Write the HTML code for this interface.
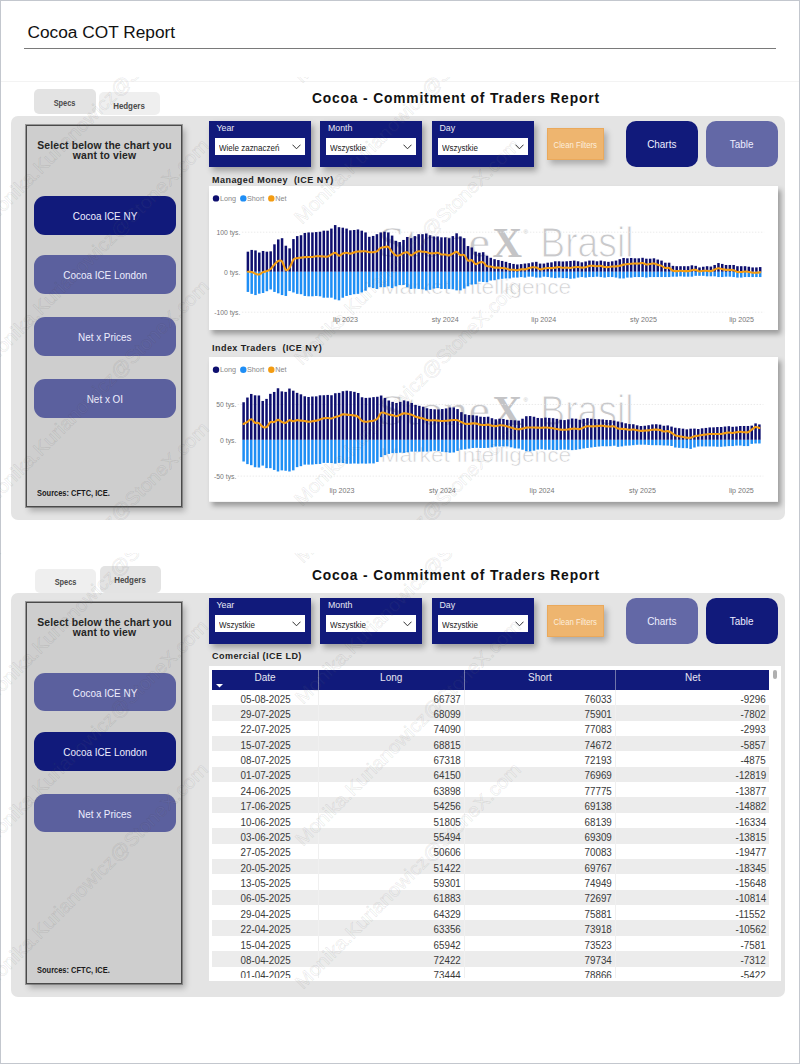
<!DOCTYPE html>
<html><head><meta charset="utf-8">
<style>
html,body{margin:0;padding:0;}
body{width:800px;height:1064px;position:relative;overflow:hidden;background:#fff;font-family:'Liberation Sans', sans-serif;}
.frame{position:absolute;left:0;top:0;width:798px;height:1062px;border:1px solid #c3c7ce;}
.ptitle{position:absolute;left:27.5px;top:22.4px;font-size:17.3px;color:#111;white-space:nowrap;}
.uline{position:absolute;left:24px;top:48px;width:752px;height:1px;background:#7a7a7a;}
.sep{position:absolute;left:1px;top:81px;width:798px;height:1px;background:#f3f3f3;}
.tab{position:absolute;border-radius:5px;}
.tab span{position:absolute;left:0;right:0;text-align:center;font-size:8.5px;line-height:10px;font-weight:bold;color:#4a4a4a;}
.tab i{font-style:normal;display:inline-block;transform:scaleX(0.87);}
.title{position:absolute;left:312px;width:290px;font-size:13.8px;font-weight:bold;color:#111;white-space:nowrap;letter-spacing:0.84px;}
.panel{position:absolute;left:11px;width:774px;background:#e4e4e4;border-radius:7px;}
.lbox{position:absolute;left:26px;width:154px;background:#cecece;border:1px solid #4a4a4a;outline:0.6px solid rgba(80,80,80,0.5);box-shadow:3px 4px 6px rgba(0,0,0,0.25);}
.seltxt{position:absolute;left:26.5px;width:156px;text-align:center;font-size:10.4px;font-weight:bold;color:#252525;line-height:10.9px;letter-spacing:0.13px;}
.btn{position:absolute;display:flex;align-items:center;justify-content:center;color:#eef;font-size:11.4px;border-radius:11px;padding-top:1.5px;box-sizing:border-box;white-space:nowrap;}
.btn i{font-style:normal;display:inline-block;transform:scaleX(0.87);}
.btn.dark{background:#111a7b;}
.btn.light{background:#5b609e;}
.btn.light2{background:#6368a6;}
.src i{font-style:normal;display:inline-block;transform:scaleX(0.88);transform-origin:0 50%;}
.src{position:absolute;left:37px;font-size:8.5px;font-weight:bold;color:#1a1a1a;white-space:nowrap;}
.slicer{position:absolute;width:102px;height:46px;background:#111a7b;box-shadow:3px 4px 6px rgba(0,0,0,0.3);}
.sl-lab{position:absolute;left:8px;top:2.5px;font-size:8.8px;color:#e8e8f4;}
.sl-in{position:absolute;left:6px;top:17px;width:90px;height:17.5px;background:#fff;}
.sl-in span{position:absolute;left:4px;top:4.9px;font-size:8.9px;transform:scaleX(0.9);transform-origin:0 50%;color:#222;white-space:nowrap;}
.chev{position:absolute;right:4px;top:6.7px;}
.clean i{font-style:normal;display:inline-block;transform:scaleX(0.86);padding-top:1.5px;}
.clean{position:absolute;width:57px;height:31.5px;box-sizing:border-box;border:1px solid #eaa95c;background:#eeb56f;color:#fdeedc;font-size:9px;display:flex;align-items:center;justify-content:center;box-shadow:3px 4px 6px rgba(0,0,0,0.25);white-space:nowrap;}
.ctitle{position:absolute;left:212px;font-size:9px;font-weight:bold;color:#222;white-space:nowrap;letter-spacing:0.46px;}
.cshadow{position:absolute;left:209px;width:569px;height:144px;box-shadow:3px 4px 5px rgba(0,0,0,0.32);}
.tbox{position:absolute;left:208.5px;top:665.8px;width:572px;height:315.5px;background:#fff;}
.thead{position:absolute;left:212.35px;top:669.6px;width:557.05px;height:20.15px;background:#111a7b;}
.th{position:absolute;top:0;height:20px;line-height:15px;text-align:center;color:#e6e6f2;font-size:10px;box-sizing:border-box;border-left:1px solid #7075aa;}
.th:first-child{border-left:none;}
.tbody{position:absolute;left:212.35px;top:689.75px;width:557.05px;height:287.85px;overflow:hidden;}
.tr{position:absolute;left:0;width:557.05px;height:15.38px;}
.td{position:absolute;top:1.8px;height:15.35px;line-height:15.35px;font-size:10px;color:#3a3a3a;white-space:nowrap;}
.td span{display:inline-block;transform:scaleX(0.98);}
.td.c0 span{transform-origin:50% 50%;}
.td.c1 span,.td.c2 span,.td.c3 span{transform-origin:100% 50%;}
.td.c0{left:0;width:105.5px;text-align:center;}
.td.c1{left:105.5px;width:142.5px;text-align:right;}
.td.c2{left:251.25px;width:148px;text-align:right;}
.td.c3{left:402.95px;width:150.5px;text-align:right;}
.vline{position:absolute;top:0;height:288px;width:1px;background:#f0f0f0;}
.scroll{position:absolute;left:772.9px;top:670.4px;width:3.8px;height:9.1px;background:#b0b0b0;border-radius:2px;}
</style></head><body>
<div class="frame"></div>
<div class="ptitle">Cocoa COT Report</div>
<div class="uline"></div>
<div class="sep"></div>
<div class="tab" style="left:34px;top:89px;width:62px;height:25px;background:#e3e3e3"><span style="top:8.6px"><i>Specs</i></span></div>
<div class="tab" style="left:98.5px;top:92.3px;width:61.5px;height:22.5px;background:#efefef"><span style="top:8.3px"><i style="transform:scaleX(0.93)">Hedgers</i></span></div>
<div class="title" style="top:91.1px">Cocoa - Commitment of Traders Report</div>
<div class="panel" style="top:116px;height:404px"></div>
<div class="lbox" style="top:125px;height:379.5px"></div>
<div class="seltxt" style="top:140.5px">Select below the chart you<br>want to view</div>
<div class="btn dark" style="left:34px;top:196.2px;width:142px;height:38.5px"><i>Cocoa ICE NY</i></div>
<div class="btn light" style="left:34px;top:255.4px;width:142px;height:38.5px"><i>Cocoa ICE London</i></div>
<div class="btn light" style="left:34px;top:317px;width:142px;height:38.5px"><i>Net x Prices</i></div>
<div class="btn light" style="left:34px;top:379.2px;width:142px;height:38.5px"><i>Net x OI</i></div>
<div class="src" style="top:488px"><i>Sources: CFTC, ICE.</i></div>
<div class="slicer" style="left:208.5px;top:120.8px"><div class="sl-lab">Year</div><div class="sl-in"><span>Wiele zaznaczeń</span><svg class="chev" width="9" height="6" viewBox="0 0 9 6"><path d="M0.5 0.7 L4.5 4.8 L8.5 0.7" fill="none" stroke="#333" stroke-width="1"/></svg></div></div>
<div class="slicer" style="left:320px;top:120.8px"><div class="sl-lab">Month</div><div class="sl-in"><span>Wszystkie</span><svg class="chev" width="9" height="6" viewBox="0 0 9 6"><path d="M0.5 0.7 L4.5 4.8 L8.5 0.7" fill="none" stroke="#333" stroke-width="1"/></svg></div></div>
<div class="slicer" style="left:431.5px;top:120.8px"><div class="sl-lab">Day</div><div class="sl-in"><span>Wszystkie</span><svg class="chev" width="9" height="6" viewBox="0 0 9 6"><path d="M0.5 0.7 L4.5 4.8 L8.5 0.7" fill="none" stroke="#333" stroke-width="1"/></svg></div></div>
<div class="clean" style="left:546.5px;top:128px"><i>Clean Filters</i></div>
<div class="btn dark" style="left:625.5px;top:120.5px;width:72px;height:46px;font-size:11.4px;border-radius:10px"><i>Charts</i></div>
<div class="btn light2" style="left:706px;top:120.5px;width:72px;height:46px;font-size:11.4px;border-radius:10px"><i>Table</i></div>

<div class="ctitle" style="top:174.5px">Managed Money&nbsp; (ICE NY)</div>
<div class="cshadow" style="top:186px"></div>
<svg style="position:absolute;left:209px;top:186px" width="569" height="144" viewBox="209 186 569 144">
<rect x="209" y="186" width="569" height="144" fill="#fff"/>
<g><text x="378" y="257.05" font-family="Liberation Serif" font-size="44" textLength="112" lengthAdjust="spacingAndGlyphs" fill="#c8c8ca" stroke="#fff" stroke-width="0.6">Stone</text><text x="492.5" y="257.25" font-family="Liberation Serif" font-weight="bold" font-size="42" textLength="29.5" lengthAdjust="spacingAndGlyphs" fill="#c4c4c6">X</text><text x="523.5" y="234.45" font-family="Liberation Sans" font-size="6" fill="#c8c8c8">®</text><text x="540.3" y="257.05" font-family="Liberation Sans" font-size="41.7" textLength="93.2" lengthAdjust="spacingAndGlyphs" fill="#c9c9cb" stroke="#fff" stroke-width="1.1">Brasil</text><text x="380.5" y="293.85" font-family="Liberation Sans" font-size="19.4" textLength="190.75" lengthAdjust="spacingAndGlyphs" fill="#d0d0d2" stroke="#fff" stroke-width="0.55">Market Intelligence</text></g>
<line x1="241.9" x2="764.2" y1="232.20" y2="232.20" stroke="#e6e6e6" stroke-width="0.8" stroke-dasharray="1.5 1.5"/>
<text x="240.3" y="234.90" font-family="'Liberation Sans', sans-serif" font-size="7.8" fill="#777" text-anchor="end" textLength="23.76" lengthAdjust="spacingAndGlyphs">100 tys.</text>
<text x="240.3" y="274.50" font-family="'Liberation Sans', sans-serif" font-size="7.8" fill="#777" text-anchor="end" textLength="16.22" lengthAdjust="spacingAndGlyphs">0 tys.</text>
<line x1="241.9" x2="764.2" y1="312.20" y2="312.20" stroke="#e6e6e6" stroke-width="0.8" stroke-dasharray="1.5 1.5"/>
<text x="240.3" y="314.90" font-family="'Liberation Sans', sans-serif" font-size="7.8" fill="#777" text-anchor="end" textLength="26.02" lengthAdjust="spacingAndGlyphs">-100 tys.</text>
<rect x="246.65" y="251.68" width="2.5" height="20.12" fill="#0e0f6f"/><rect x="246.65" y="271.80" width="2.5" height="20.12" fill="#1f8ef5"/>
<rect x="250.44" y="249.93" width="2.5" height="21.88" fill="#0e0f6f"/><rect x="250.44" y="271.80" width="2.5" height="22.05" fill="#1f8ef5"/>
<rect x="254.24" y="250.45" width="2.5" height="21.35" fill="#0e0f6f"/><rect x="254.24" y="271.80" width="2.5" height="23.27" fill="#1f8ef5"/>
<rect x="258.03" y="252.55" width="2.5" height="19.25" fill="#0e0f6f"/><rect x="258.03" y="271.80" width="2.5" height="21.88" fill="#1f8ef5"/>
<rect x="261.83" y="250.98" width="2.5" height="20.82" fill="#0e0f6f"/><rect x="261.83" y="271.80" width="2.5" height="21.18" fill="#1f8ef5"/>
<rect x="265.62" y="251.68" width="2.5" height="20.12" fill="#0e0f6f"/><rect x="265.62" y="271.80" width="2.5" height="19.42" fill="#1f8ef5"/>
<rect x="269.42" y="251.33" width="2.5" height="20.47" fill="#0e0f6f"/><rect x="269.42" y="271.80" width="2.5" height="17.67" fill="#1f8ef5"/>
<rect x="273.21" y="244.33" width="2.5" height="27.47" fill="#0e0f6f"/><rect x="273.21" y="271.80" width="2.5" height="20.12" fill="#1f8ef5"/>
<rect x="277.01" y="239.43" width="2.5" height="32.38" fill="#0e0f6f"/><rect x="277.01" y="271.80" width="2.5" height="21.52" fill="#1f8ef5"/>
<rect x="280.80" y="238.20" width="2.5" height="33.60" fill="#0e0f6f"/><rect x="280.80" y="271.80" width="2.5" height="23.27" fill="#1f8ef5"/>
<rect x="284.60" y="245.73" width="2.5" height="26.07" fill="#0e0f6f"/><rect x="284.60" y="271.80" width="2.5" height="24.15" fill="#1f8ef5"/>
<rect x="288.39" y="248.35" width="2.5" height="23.45" fill="#0e0f6f"/><rect x="288.39" y="271.80" width="2.5" height="19.25" fill="#1f8ef5"/>
<rect x="292.19" y="239.08" width="2.5" height="32.72" fill="#0e0f6f"/><rect x="292.19" y="271.80" width="2.5" height="20.65" fill="#1f8ef5"/>
<rect x="295.98" y="236.10" width="2.5" height="35.70" fill="#0e0f6f"/><rect x="295.98" y="271.80" width="2.5" height="22.05" fill="#1f8ef5"/>
<rect x="299.78" y="235.23" width="2.5" height="36.57" fill="#0e0f6f"/><rect x="299.78" y="271.80" width="2.5" height="22.40" fill="#1f8ef5"/>
<rect x="303.57" y="232.95" width="2.5" height="38.85" fill="#0e0f6f"/><rect x="303.57" y="271.80" width="2.5" height="24.15" fill="#1f8ef5"/>
<rect x="307.37" y="232.43" width="2.5" height="39.37" fill="#0e0f6f"/><rect x="307.37" y="271.80" width="2.5" height="24.50" fill="#1f8ef5"/>
<rect x="311.16" y="232.43" width="2.5" height="39.37" fill="#0e0f6f"/><rect x="311.16" y="271.80" width="2.5" height="24.50" fill="#1f8ef5"/>
<rect x="314.96" y="232.08" width="2.5" height="39.73" fill="#0e0f6f"/><rect x="314.96" y="271.80" width="2.5" height="24.15" fill="#1f8ef5"/>
<rect x="318.75" y="231.73" width="2.5" height="40.07" fill="#0e0f6f"/><rect x="318.75" y="271.80" width="2.5" height="24.50" fill="#1f8ef5"/>
<rect x="322.55" y="230.68" width="2.5" height="41.12" fill="#0e0f6f"/><rect x="322.55" y="271.80" width="2.5" height="25.90" fill="#1f8ef5"/>
<rect x="326.34" y="230.68" width="2.5" height="41.12" fill="#0e0f6f"/><rect x="326.34" y="271.80" width="2.5" height="25.90" fill="#1f8ef5"/>
<rect x="330.14" y="228.58" width="2.5" height="43.23" fill="#0e0f6f"/><rect x="330.14" y="271.80" width="2.5" height="25.90" fill="#1f8ef5"/>
<rect x="333.93" y="225.08" width="2.5" height="46.72" fill="#0e0f6f"/><rect x="333.93" y="271.80" width="2.5" height="27.65" fill="#1f8ef5"/>
<rect x="337.73" y="227.18" width="2.5" height="44.62" fill="#0e0f6f"/><rect x="337.73" y="271.80" width="2.5" height="28.52" fill="#1f8ef5"/>
<rect x="341.52" y="227.70" width="2.5" height="44.10" fill="#0e0f6f"/><rect x="341.52" y="271.80" width="2.5" height="25.90" fill="#1f8ef5"/>
<rect x="345.32" y="228.58" width="2.5" height="43.23" fill="#0e0f6f"/><rect x="345.32" y="271.80" width="2.5" height="24.15" fill="#1f8ef5"/>
<rect x="349.11" y="230.33" width="2.5" height="41.47" fill="#0e0f6f"/><rect x="349.11" y="271.80" width="2.5" height="23.27" fill="#1f8ef5"/>
<rect x="352.90" y="229.98" width="2.5" height="41.82" fill="#0e0f6f"/><rect x="352.90" y="271.80" width="2.5" height="22.40" fill="#1f8ef5"/>
<rect x="356.70" y="229.45" width="2.5" height="42.35" fill="#0e0f6f"/><rect x="356.70" y="271.80" width="2.5" height="22.05" fill="#1f8ef5"/>
<rect x="360.49" y="230.68" width="2.5" height="41.12" fill="#0e0f6f"/><rect x="360.49" y="271.80" width="2.5" height="20.65" fill="#1f8ef5"/>
<rect x="364.29" y="232.43" width="2.5" height="39.37" fill="#0e0f6f"/><rect x="364.29" y="271.80" width="2.5" height="18.90" fill="#1f8ef5"/>
<rect x="368.08" y="236.80" width="2.5" height="35.00" fill="#0e0f6f"/><rect x="368.08" y="271.80" width="2.5" height="15.40" fill="#1f8ef5"/>
<rect x="371.88" y="235.93" width="2.5" height="35.88" fill="#0e0f6f"/><rect x="371.88" y="271.80" width="2.5" height="16.27" fill="#1f8ef5"/>
<rect x="375.67" y="234.18" width="2.5" height="37.62" fill="#0e0f6f"/><rect x="375.67" y="271.80" width="2.5" height="17.15" fill="#1f8ef5"/>
<rect x="379.47" y="232.43" width="2.5" height="39.37" fill="#0e0f6f"/><rect x="379.47" y="271.80" width="2.5" height="15.40" fill="#1f8ef5"/>
<rect x="383.26" y="231.73" width="2.5" height="40.07" fill="#0e0f6f"/><rect x="383.26" y="271.80" width="2.5" height="15.40" fill="#1f8ef5"/>
<rect x="387.06" y="232.43" width="2.5" height="39.37" fill="#0e0f6f"/><rect x="387.06" y="271.80" width="2.5" height="14.52" fill="#1f8ef5"/>
<rect x="390.85" y="235.58" width="2.5" height="36.23" fill="#0e0f6f"/><rect x="390.85" y="271.80" width="2.5" height="16.27" fill="#1f8ef5"/>
<rect x="394.65" y="240.83" width="2.5" height="30.97" fill="#0e0f6f"/><rect x="394.65" y="271.80" width="2.5" height="14.52" fill="#1f8ef5"/>
<rect x="398.44" y="242.05" width="2.5" height="29.75" fill="#0e0f6f"/><rect x="398.44" y="271.80" width="2.5" height="13.30" fill="#1f8ef5"/>
<rect x="402.24" y="239.95" width="2.5" height="31.85" fill="#0e0f6f"/><rect x="402.24" y="271.80" width="2.5" height="13.12" fill="#1f8ef5"/>
<rect x="406.03" y="236.98" width="2.5" height="34.82" fill="#0e0f6f"/><rect x="406.03" y="271.80" width="2.5" height="15.40" fill="#1f8ef5"/>
<rect x="409.83" y="238.20" width="2.5" height="33.60" fill="#0e0f6f"/><rect x="409.83" y="271.80" width="2.5" height="17.15" fill="#1f8ef5"/>
<rect x="413.62" y="236.10" width="2.5" height="35.70" fill="#0e0f6f"/><rect x="413.62" y="271.80" width="2.5" height="16.80" fill="#1f8ef5"/>
<rect x="417.42" y="234.18" width="2.5" height="37.62" fill="#0e0f6f"/><rect x="417.42" y="271.80" width="2.5" height="17.15" fill="#1f8ef5"/>
<rect x="421.21" y="234.18" width="2.5" height="37.62" fill="#0e0f6f"/><rect x="421.21" y="271.80" width="2.5" height="17.50" fill="#1f8ef5"/>
<rect x="425.01" y="233.48" width="2.5" height="38.33" fill="#0e0f6f"/><rect x="425.01" y="271.80" width="2.5" height="18.55" fill="#1f8ef5"/>
<rect x="428.80" y="235.23" width="2.5" height="36.57" fill="#0e0f6f"/><rect x="428.80" y="271.80" width="2.5" height="18.02" fill="#1f8ef5"/>
<rect x="432.60" y="236.45" width="2.5" height="35.35" fill="#0e0f6f"/><rect x="432.60" y="271.80" width="2.5" height="16.80" fill="#1f8ef5"/>
<rect x="436.39" y="236.45" width="2.5" height="35.35" fill="#0e0f6f"/><rect x="436.39" y="271.80" width="2.5" height="16.27" fill="#1f8ef5"/>
<rect x="440.19" y="237.33" width="2.5" height="34.48" fill="#0e0f6f"/><rect x="440.19" y="271.80" width="2.5" height="17.15" fill="#1f8ef5"/>
<rect x="443.98" y="237.33" width="2.5" height="34.48" fill="#0e0f6f"/><rect x="443.98" y="271.80" width="2.5" height="17.15" fill="#1f8ef5"/>
<rect x="447.78" y="238.20" width="2.5" height="33.60" fill="#0e0f6f"/><rect x="447.78" y="271.80" width="2.5" height="17.15" fill="#1f8ef5"/>
<rect x="451.57" y="236.10" width="2.5" height="35.70" fill="#0e0f6f"/><rect x="451.57" y="271.80" width="2.5" height="17.50" fill="#1f8ef5"/>
<rect x="455.36" y="233.30" width="2.5" height="38.50" fill="#0e0f6f"/><rect x="455.36" y="271.80" width="2.5" height="18.55" fill="#1f8ef5"/>
<rect x="459.16" y="236.45" width="2.5" height="35.35" fill="#0e0f6f"/><rect x="459.16" y="271.80" width="2.5" height="18.55" fill="#1f8ef5"/>
<rect x="462.95" y="238.20" width="2.5" height="33.60" fill="#0e0f6f"/><rect x="462.95" y="271.80" width="2.5" height="16.80" fill="#1f8ef5"/>
<rect x="466.75" y="246.08" width="2.5" height="25.73" fill="#0e0f6f"/><rect x="466.75" y="271.80" width="2.5" height="14.52" fill="#1f8ef5"/>
<rect x="470.54" y="247.48" width="2.5" height="24.32" fill="#0e0f6f"/><rect x="470.54" y="271.80" width="2.5" height="12.77" fill="#1f8ef5"/>
<rect x="474.34" y="251.68" width="2.5" height="20.12" fill="#0e0f6f"/><rect x="474.34" y="271.80" width="2.5" height="12.42" fill="#1f8ef5"/>
<rect x="478.13" y="252.73" width="2.5" height="19.07" fill="#0e0f6f"/><rect x="478.13" y="271.80" width="2.5" height="9.80" fill="#1f8ef5"/>
<rect x="481.93" y="252.20" width="2.5" height="19.60" fill="#0e0f6f"/><rect x="481.93" y="271.80" width="2.5" height="10.15" fill="#1f8ef5"/>
<rect x="485.72" y="255.70" width="2.5" height="16.10" fill="#0e0f6f"/><rect x="485.72" y="271.80" width="2.5" height="10.50" fill="#1f8ef5"/>
<rect x="489.52" y="257.80" width="2.5" height="14.00" fill="#0e0f6f"/><rect x="489.52" y="271.80" width="2.5" height="8.75" fill="#1f8ef5"/>
<rect x="493.31" y="259.20" width="2.5" height="12.60" fill="#0e0f6f"/><rect x="493.31" y="271.80" width="2.5" height="8.40" fill="#1f8ef5"/>
<rect x="497.11" y="260.07" width="2.5" height="11.72" fill="#0e0f6f"/><rect x="497.11" y="271.80" width="2.5" height="7.52" fill="#1f8ef5"/>
<rect x="500.90" y="260.95" width="2.5" height="10.85" fill="#0e0f6f"/><rect x="500.90" y="271.80" width="2.5" height="7.00" fill="#1f8ef5"/>
<rect x="504.70" y="261.82" width="2.5" height="9.97" fill="#0e0f6f"/><rect x="504.70" y="271.80" width="2.5" height="6.65" fill="#1f8ef5"/>
<rect x="508.49" y="263.05" width="2.5" height="8.75" fill="#0e0f6f"/><rect x="508.49" y="271.80" width="2.5" height="6.65" fill="#1f8ef5"/>
<rect x="512.29" y="263.93" width="2.5" height="7.87" fill="#0e0f6f"/><rect x="512.29" y="271.80" width="2.5" height="5.77" fill="#1f8ef5"/>
<rect x="516.08" y="264.45" width="2.5" height="7.35" fill="#0e0f6f"/><rect x="516.08" y="271.80" width="2.5" height="5.77" fill="#1f8ef5"/>
<rect x="519.88" y="264.10" width="2.5" height="7.70" fill="#0e0f6f"/><rect x="519.88" y="271.80" width="2.5" height="5.25" fill="#1f8ef5"/>
<rect x="523.67" y="263.57" width="2.5" height="8.22" fill="#0e0f6f"/><rect x="523.67" y="271.80" width="2.5" height="5.77" fill="#1f8ef5"/>
<rect x="527.47" y="263.23" width="2.5" height="8.57" fill="#0e0f6f"/><rect x="527.47" y="271.80" width="2.5" height="4.90" fill="#1f8ef5"/>
<rect x="531.26" y="262.35" width="2.5" height="9.45" fill="#0e0f6f"/><rect x="531.26" y="271.80" width="2.5" height="4.90" fill="#1f8ef5"/>
<rect x="535.06" y="261.82" width="2.5" height="9.97" fill="#0e0f6f"/><rect x="535.06" y="271.80" width="2.5" height="5.77" fill="#1f8ef5"/>
<rect x="538.85" y="263.57" width="2.5" height="8.22" fill="#0e0f6f"/><rect x="538.85" y="271.80" width="2.5" height="5.77" fill="#1f8ef5"/>
<rect x="542.65" y="263.57" width="2.5" height="8.22" fill="#0e0f6f"/><rect x="542.65" y="271.80" width="2.5" height="4.90" fill="#1f8ef5"/>
<rect x="546.44" y="262.70" width="2.5" height="9.10" fill="#0e0f6f"/><rect x="546.44" y="271.80" width="2.5" height="5.25" fill="#1f8ef5"/>
<rect x="550.24" y="262.35" width="2.5" height="9.45" fill="#0e0f6f"/><rect x="550.24" y="271.80" width="2.5" height="5.77" fill="#1f8ef5"/>
<rect x="554.03" y="261.30" width="2.5" height="10.50" fill="#0e0f6f"/><rect x="554.03" y="271.80" width="2.5" height="6.30" fill="#1f8ef5"/>
<rect x="557.82" y="261.30" width="2.5" height="10.50" fill="#0e0f6f"/><rect x="557.82" y="271.80" width="2.5" height="5.77" fill="#1f8ef5"/>
<rect x="561.62" y="261.48" width="2.5" height="10.32" fill="#0e0f6f"/><rect x="561.62" y="271.80" width="2.5" height="6.30" fill="#1f8ef5"/>
<rect x="565.41" y="261.30" width="2.5" height="10.50" fill="#0e0f6f"/><rect x="565.41" y="271.80" width="2.5" height="6.30" fill="#1f8ef5"/>
<rect x="569.21" y="260.95" width="2.5" height="10.85" fill="#0e0f6f"/><rect x="569.21" y="271.80" width="2.5" height="7.00" fill="#1f8ef5"/>
<rect x="573.00" y="260.60" width="2.5" height="11.20" fill="#0e0f6f"/><rect x="573.00" y="271.80" width="2.5" height="6.65" fill="#1f8ef5"/>
<rect x="576.80" y="261.30" width="2.5" height="10.50" fill="#0e0f6f"/><rect x="576.80" y="271.80" width="2.5" height="5.77" fill="#1f8ef5"/>
<rect x="580.59" y="262.35" width="2.5" height="9.45" fill="#0e0f6f"/><rect x="580.59" y="271.80" width="2.5" height="5.25" fill="#1f8ef5"/>
<rect x="584.39" y="261.48" width="2.5" height="10.32" fill="#0e0f6f"/><rect x="584.39" y="271.80" width="2.5" height="5.77" fill="#1f8ef5"/>
<rect x="588.18" y="260.60" width="2.5" height="11.20" fill="#0e0f6f"/><rect x="588.18" y="271.80" width="2.5" height="5.25" fill="#1f8ef5"/>
<rect x="591.98" y="260.60" width="2.5" height="11.20" fill="#0e0f6f"/><rect x="591.98" y="271.80" width="2.5" height="5.25" fill="#1f8ef5"/>
<rect x="595.77" y="261.30" width="2.5" height="10.50" fill="#0e0f6f"/><rect x="595.77" y="271.80" width="2.5" height="4.90" fill="#1f8ef5"/>
<rect x="599.57" y="260.60" width="2.5" height="11.20" fill="#0e0f6f"/><rect x="599.57" y="271.80" width="2.5" height="5.25" fill="#1f8ef5"/>
<rect x="603.36" y="261.30" width="2.5" height="10.50" fill="#0e0f6f"/><rect x="603.36" y="271.80" width="2.5" height="5.77" fill="#1f8ef5"/>
<rect x="607.16" y="261.82" width="2.5" height="9.97" fill="#0e0f6f"/><rect x="607.16" y="271.80" width="2.5" height="5.25" fill="#1f8ef5"/>
<rect x="610.95" y="261.30" width="2.5" height="10.50" fill="#0e0f6f"/><rect x="610.95" y="271.80" width="2.5" height="5.25" fill="#1f8ef5"/>
<rect x="614.75" y="260.60" width="2.5" height="11.20" fill="#0e0f6f"/><rect x="614.75" y="271.80" width="2.5" height="5.77" fill="#1f8ef5"/>
<rect x="618.54" y="259.20" width="2.5" height="12.60" fill="#0e0f6f"/><rect x="618.54" y="271.80" width="2.5" height="6.65" fill="#1f8ef5"/>
<rect x="622.34" y="257.98" width="2.5" height="13.82" fill="#0e0f6f"/><rect x="622.34" y="271.80" width="2.5" height="6.65" fill="#1f8ef5"/>
<rect x="626.13" y="258.32" width="2.5" height="13.47" fill="#0e0f6f"/><rect x="626.13" y="271.80" width="2.5" height="5.77" fill="#1f8ef5"/>
<rect x="629.93" y="257.98" width="2.5" height="13.82" fill="#0e0f6f"/><rect x="629.93" y="271.80" width="2.5" height="5.77" fill="#1f8ef5"/>
<rect x="633.72" y="258.32" width="2.5" height="13.47" fill="#0e0f6f"/><rect x="633.72" y="271.80" width="2.5" height="5.25" fill="#1f8ef5"/>
<rect x="637.52" y="258.32" width="2.5" height="13.47" fill="#0e0f6f"/><rect x="637.52" y="271.80" width="2.5" height="5.25" fill="#1f8ef5"/>
<rect x="641.31" y="257.80" width="2.5" height="14.00" fill="#0e0f6f"/><rect x="641.31" y="271.80" width="2.5" height="5.25" fill="#1f8ef5"/>
<rect x="645.11" y="258.68" width="2.5" height="13.12" fill="#0e0f6f"/><rect x="645.11" y="271.80" width="2.5" height="5.77" fill="#1f8ef5"/>
<rect x="648.90" y="258.68" width="2.5" height="13.12" fill="#0e0f6f"/><rect x="648.90" y="271.80" width="2.5" height="5.25" fill="#1f8ef5"/>
<rect x="652.70" y="258.32" width="2.5" height="13.47" fill="#0e0f6f"/><rect x="652.70" y="271.80" width="2.5" height="5.25" fill="#1f8ef5"/>
<rect x="656.49" y="259.55" width="2.5" height="12.25" fill="#0e0f6f"/><rect x="656.49" y="271.80" width="2.5" height="5.25" fill="#1f8ef5"/>
<rect x="660.28" y="260.60" width="2.5" height="11.20" fill="#0e0f6f"/><rect x="660.28" y="271.80" width="2.5" height="5.25" fill="#1f8ef5"/>
<rect x="664.08" y="262.70" width="2.5" height="9.10" fill="#0e0f6f"/><rect x="664.08" y="271.80" width="2.5" height="5.25" fill="#1f8ef5"/>
<rect x="667.87" y="262.70" width="2.5" height="9.10" fill="#0e0f6f"/><rect x="667.87" y="271.80" width="2.5" height="5.25" fill="#1f8ef5"/>
<rect x="671.67" y="265.85" width="2.5" height="5.95" fill="#0e0f6f"/><rect x="671.67" y="271.80" width="2.5" height="4.90" fill="#1f8ef5"/>
<rect x="675.46" y="266.20" width="2.5" height="5.60" fill="#0e0f6f"/><rect x="675.46" y="271.80" width="2.5" height="4.90" fill="#1f8ef5"/>
<rect x="679.26" y="266.20" width="2.5" height="5.60" fill="#0e0f6f"/><rect x="679.26" y="271.80" width="2.5" height="4.55" fill="#1f8ef5"/>
<rect x="683.05" y="266.20" width="2.5" height="5.60" fill="#0e0f6f"/><rect x="683.05" y="271.80" width="2.5" height="4.90" fill="#1f8ef5"/>
<rect x="686.85" y="266.20" width="2.5" height="5.60" fill="#0e0f6f"/><rect x="686.85" y="271.80" width="2.5" height="4.90" fill="#1f8ef5"/>
<rect x="690.64" y="265.32" width="2.5" height="6.47" fill="#0e0f6f"/><rect x="690.64" y="271.80" width="2.5" height="4.90" fill="#1f8ef5"/>
<rect x="694.44" y="265.85" width="2.5" height="5.95" fill="#0e0f6f"/><rect x="694.44" y="271.80" width="2.5" height="4.03" fill="#1f8ef5"/>
<rect x="698.23" y="267.43" width="2.5" height="4.38" fill="#0e0f6f"/><rect x="698.23" y="271.80" width="2.5" height="4.03" fill="#1f8ef5"/>
<rect x="702.03" y="266.73" width="2.5" height="5.07" fill="#0e0f6f"/><rect x="702.03" y="271.80" width="2.5" height="4.03" fill="#1f8ef5"/>
<rect x="705.82" y="266.20" width="2.5" height="5.60" fill="#0e0f6f"/><rect x="705.82" y="271.80" width="2.5" height="4.55" fill="#1f8ef5"/>
<rect x="709.62" y="266.55" width="2.5" height="5.25" fill="#0e0f6f"/><rect x="709.62" y="271.80" width="2.5" height="4.55" fill="#1f8ef5"/>
<rect x="713.41" y="264.98" width="2.5" height="6.83" fill="#0e0f6f"/><rect x="713.41" y="271.80" width="2.5" height="4.55" fill="#1f8ef5"/>
<rect x="717.21" y="263.05" width="2.5" height="8.75" fill="#0e0f6f"/><rect x="717.21" y="271.80" width="2.5" height="5.25" fill="#1f8ef5"/>
<rect x="721.00" y="263.93" width="2.5" height="7.87" fill="#0e0f6f"/><rect x="721.00" y="271.80" width="2.5" height="5.25" fill="#1f8ef5"/>
<rect x="724.80" y="264.98" width="2.5" height="6.83" fill="#0e0f6f"/><rect x="724.80" y="271.80" width="2.5" height="4.90" fill="#1f8ef5"/>
<rect x="728.59" y="264.98" width="2.5" height="6.83" fill="#0e0f6f"/><rect x="728.59" y="271.80" width="2.5" height="4.90" fill="#1f8ef5"/>
<rect x="732.39" y="264.98" width="2.5" height="6.83" fill="#0e0f6f"/><rect x="732.39" y="271.80" width="2.5" height="5.25" fill="#1f8ef5"/>
<rect x="736.18" y="266.20" width="2.5" height="5.60" fill="#0e0f6f"/><rect x="736.18" y="271.80" width="2.5" height="5.77" fill="#1f8ef5"/>
<rect x="739.98" y="266.20" width="2.5" height="5.60" fill="#0e0f6f"/><rect x="739.98" y="271.80" width="2.5" height="5.77" fill="#1f8ef5"/>
<rect x="743.77" y="266.20" width="2.5" height="5.60" fill="#0e0f6f"/><rect x="743.77" y="271.80" width="2.5" height="5.25" fill="#1f8ef5"/>
<rect x="747.57" y="266.73" width="2.5" height="5.07" fill="#0e0f6f"/><rect x="747.57" y="271.80" width="2.5" height="5.25" fill="#1f8ef5"/>
<rect x="751.36" y="267.43" width="2.5" height="4.38" fill="#0e0f6f"/><rect x="751.36" y="271.80" width="2.5" height="5.25" fill="#1f8ef5"/>
<rect x="755.16" y="267.43" width="2.5" height="4.38" fill="#0e0f6f"/><rect x="755.16" y="271.80" width="2.5" height="5.25" fill="#1f8ef5"/>
<rect x="758.95" y="267.07" width="2.5" height="4.72" fill="#0e0f6f"/><rect x="758.95" y="271.80" width="2.5" height="5.25" fill="#1f8ef5"/>
<path d="M247.90,271.80 C248.53,271.83 250.43,271.65 251.69,271.98 C252.96,272.30 254.22,273.32 255.49,273.73 C256.75,274.13 258.02,274.69 259.28,274.43 C260.55,274.16 261.81,272.70 263.08,272.15 C264.34,271.60 265.61,271.62 266.87,271.10 C268.14,270.58 269.40,270.11 270.67,269.00 C271.93,267.89 273.20,265.79 274.46,264.45 C275.73,263.11 276.99,261.45 278.26,260.95 C279.52,260.45 280.79,259.99 282.05,261.48 C283.32,262.96 284.58,268.85 285.85,269.88 C287.11,270.90 288.38,269.29 289.64,267.60 C290.91,265.91 292.17,261.30 293.44,259.73 C294.70,258.15 295.97,258.50 297.23,258.15 C298.50,257.80 299.76,257.80 301.03,257.62 C302.29,257.45 303.56,257.22 304.82,257.10 C306.09,256.98 307.35,256.95 308.62,256.93 C309.88,256.90 311.15,257.04 312.41,256.93 C313.68,256.81 314.94,256.34 316.21,256.23 C317.47,256.11 318.74,256.17 320.00,256.23 C321.27,256.28 322.53,256.52 323.80,256.57 C325.06,256.63 326.33,256.92 327.59,256.57 C328.86,256.23 330.12,255.12 331.39,254.48 C332.65,253.83 333.92,252.52 335.18,252.73 C336.45,252.93 337.71,255.55 338.98,255.70 C340.24,255.85 341.51,254.10 342.77,253.60 C344.04,253.10 345.30,252.73 346.57,252.73 C347.83,252.73 349.10,253.66 350.36,253.60 C351.62,253.54 352.89,252.72 354.15,252.38 C355.42,252.03 356.68,251.68 357.95,251.50 C359.21,251.32 360.48,251.35 361.74,251.33 C363.01,251.30 364.27,251.18 365.54,251.33 C366.80,251.47 368.07,252.05 369.33,252.20 C370.60,252.35 371.86,252.35 373.13,252.20 C374.39,252.05 375.66,252.05 376.92,251.33 C378.19,250.60 379.45,248.53 380.72,247.83 C381.98,247.12 383.25,247.27 384.51,247.12 C385.78,246.98 387.04,246.16 388.31,246.95 C389.57,247.74 390.84,250.45 392.10,251.85 C393.37,253.25 394.63,254.77 395.90,255.35 C397.16,255.93 398.43,255.73 399.69,255.35 C400.96,254.97 402.22,253.57 403.49,253.08 C404.75,252.58 406.02,252.00 407.28,252.38 C408.55,252.75 409.81,255.26 411.08,255.35 C412.34,255.44 413.61,253.57 414.87,252.90 C416.14,252.23 417.40,251.53 418.67,251.33 C419.93,251.12 421.20,251.56 422.46,251.68 C423.73,251.79 424.99,251.76 426.26,252.03 C427.52,252.29 428.79,253.05 430.05,253.25 C431.32,253.45 432.58,253.34 433.85,253.25 C435.11,253.16 436.38,252.52 437.64,252.73 C438.91,252.93 440.17,254.18 441.44,254.48 C442.70,254.77 443.97,254.33 445.23,254.48 C446.50,254.62 447.76,255.50 449.03,255.35 C450.29,255.20 451.56,254.18 452.82,253.60 C454.08,253.02 455.35,251.62 456.61,251.85 C457.88,252.08 459.14,254.47 460.41,255.00 C461.67,255.53 462.94,254.07 464.20,255.00 C465.47,255.93 466.73,259.73 468.00,260.60 C469.26,261.48 470.53,259.67 471.79,260.25 C473.06,260.83 474.32,263.72 475.59,264.10 C476.85,264.48 478.12,262.82 479.38,262.53 C480.65,262.23 481.91,261.74 483.18,262.35 C484.44,262.96 485.71,265.50 486.97,266.20 C488.24,266.90 489.50,266.32 490.77,266.55 C492.03,266.78 493.30,267.43 494.56,267.60 C495.83,267.78 497.09,267.54 498.36,267.60 C499.62,267.66 500.89,267.80 502.15,267.95 C503.42,268.10 504.68,268.18 505.95,268.48 C507.21,268.77 508.48,269.50 509.74,269.70 C511.01,269.90 512.27,269.61 513.54,269.70 C514.80,269.79 516.07,270.28 517.33,270.23 C518.60,270.17 519.86,269.50 521.13,269.35 C522.39,269.20 523.66,269.55 524.92,269.35 C526.19,269.15 527.45,268.48 528.72,268.12 C529.98,267.77 531.25,267.34 532.51,267.25 C533.78,267.16 535.04,267.25 536.31,267.60 C537.57,267.95 538.84,269.20 540.10,269.35 C541.37,269.50 542.63,268.71 543.90,268.48 C545.16,268.24 546.43,268.01 547.69,267.95 C548.96,267.89 550.22,268.18 551.49,268.12 C552.75,268.07 554.02,267.78 555.28,267.60 C556.54,267.43 557.81,267.05 559.07,267.07 C560.34,267.10 561.60,267.69 562.87,267.78 C564.13,267.86 565.40,267.57 566.66,267.60 C567.93,267.63 569.19,268.01 570.46,267.95 C571.72,267.89 572.99,267.40 574.25,267.25 C575.52,267.10 576.78,267.02 578.05,267.07 C579.31,267.13 580.58,267.57 581.84,267.60 C583.11,267.63 584.37,267.54 585.64,267.25 C586.90,266.96 588.17,266.08 589.43,265.85 C590.70,265.62 591.96,265.79 593.23,265.85 C594.49,265.91 595.76,266.20 597.02,266.20 C598.29,266.20 599.55,265.70 600.82,265.85 C602.08,266.00 603.35,266.87 604.61,267.07 C605.88,267.28 607.14,267.16 608.41,267.07 C609.67,266.99 610.94,266.67 612.20,266.55 C613.47,266.43 614.73,266.49 616.00,266.38 C617.26,266.26 618.53,266.14 619.79,265.85 C621.06,265.56 622.32,264.92 623.59,264.62 C624.85,264.33 626.12,264.25 627.38,264.10 C628.65,263.95 629.91,263.84 631.18,263.75 C632.44,263.66 633.71,263.60 634.97,263.57 C636.24,263.55 637.50,263.66 638.77,263.57 C640.03,263.49 641.30,262.90 642.56,263.05 C643.83,263.20 645.09,264.30 646.36,264.45 C647.62,264.60 648.89,264.07 650.15,263.93 C651.42,263.78 652.68,263.43 653.95,263.57 C655.21,263.72 656.48,264.42 657.74,264.80 C659.00,265.18 660.27,265.33 661.53,265.85 C662.80,266.38 664.06,267.60 665.33,267.95 C666.59,268.30 667.86,267.48 669.12,267.95 C670.39,268.42 671.65,270.23 672.92,270.75 C674.18,271.27 675.45,271.10 676.71,271.10 C677.98,271.10 679.24,270.75 680.51,270.75 C681.77,270.75 683.04,271.04 684.30,271.10 C685.57,271.16 686.83,271.25 688.10,271.10 C689.36,270.95 690.63,270.43 691.89,270.23 C693.16,270.02 694.42,269.67 695.69,269.88 C696.95,270.08 698.22,271.30 699.48,271.45 C700.75,271.60 702.01,270.87 703.28,270.75 C704.54,270.63 705.81,270.69 707.07,270.75 C708.34,270.81 709.60,271.30 710.87,271.10 C712.13,270.90 713.40,269.99 714.66,269.53 C715.93,269.06 717.19,268.36 718.46,268.30 C719.72,268.24 720.99,268.91 722.25,269.18 C723.52,269.44 724.78,269.76 726.05,269.88 C727.31,269.99 728.58,269.82 729.84,269.88 C731.11,269.93 732.37,269.88 733.64,270.23 C734.90,270.58 736.17,271.68 737.43,271.98 C738.70,272.27 739.96,272.06 741.23,271.98 C742.49,271.89 743.76,271.45 745.02,271.45 C746.29,271.45 747.55,271.77 748.82,271.98 C750.08,272.18 751.35,272.56 752.61,272.68 C753.88,272.79 755.14,272.73 756.41,272.68 C757.67,272.62 759.57,272.38 760.20,272.32" fill="none" stroke="#f39c12" stroke-width="2.1" stroke-linejoin="round" stroke-linecap="round"/>
<text x="345.4" y="321.8" font-family="'Liberation Sans', sans-serif" font-size="7.8" fill="#777" text-anchor="middle" textLength="24.86" lengthAdjust="spacingAndGlyphs">lip 2023</text>
<text x="445.2" y="321.8" font-family="'Liberation Sans', sans-serif" font-size="7.8" fill="#777" text-anchor="middle" textLength="26.83" lengthAdjust="spacingAndGlyphs">sty 2024</text>
<text x="543.7" y="321.8" font-family="'Liberation Sans', sans-serif" font-size="7.8" fill="#777" text-anchor="middle" textLength="24.86" lengthAdjust="spacingAndGlyphs">lip 2024</text>
<text x="643.5" y="321.8" font-family="'Liberation Sans', sans-serif" font-size="7.8" fill="#777" text-anchor="middle" textLength="26.83" lengthAdjust="spacingAndGlyphs">sty 2025</text>
<text x="741.6" y="321.8" font-family="'Liberation Sans', sans-serif" font-size="7.8" fill="#777" text-anchor="middle" textLength="24.86" lengthAdjust="spacingAndGlyphs">lip 2025</text>
<circle cx="216" cy="198.4" r="3.2" fill="#0e0f6f"/>
<text x="220" y="200.8" font-family="'Liberation Sans', sans-serif" font-size="7.8" fill="#888" textLength="16.14" lengthAdjust="spacingAndGlyphs">Long</text>
<circle cx="243.3" cy="198.4" r="3.2" fill="#1f8ef5"/>
<text x="247" y="200.8" font-family="'Liberation Sans', sans-serif" font-size="7.8" fill="#888" textLength="17.34" lengthAdjust="spacingAndGlyphs">Short</text>
<circle cx="271.3" cy="198.4" r="3.2" fill="#f39c12"/>
<text x="275.3" y="200.8" font-family="'Liberation Sans', sans-serif" font-size="7.8" fill="#888" textLength="11.29" lengthAdjust="spacingAndGlyphs">Net</text>
</svg>
<div class="ctitle" style="top:343px">Index Traders&nbsp; (ICE NY)</div>
<div class="cshadow" style="top:357px;height:144.6px"></div>
<svg style="position:absolute;left:209px;top:357px" width="569" height="144.6" viewBox="209 357 569 144.6">
<rect x="209" y="357" width="569" height="144.6" fill="#fff"/>
<g><text x="378" y="425.10" font-family="Liberation Serif" font-size="44" textLength="112" lengthAdjust="spacingAndGlyphs" fill="#c8c8ca" stroke="#fff" stroke-width="0.6">Stone</text><text x="492.5" y="425.30" font-family="Liberation Serif" font-weight="bold" font-size="42" textLength="29.5" lengthAdjust="spacingAndGlyphs" fill="#c4c4c6">X</text><text x="523.5" y="402.50" font-family="Liberation Sans" font-size="6" fill="#c8c8c8">®</text><text x="540.3" y="425.10" font-family="Liberation Sans" font-size="41.7" textLength="93.2" lengthAdjust="spacingAndGlyphs" fill="#c9c9cb" stroke="#fff" stroke-width="1.1">Brasil</text><text x="380.5" y="461.90" font-family="Liberation Sans" font-size="19.4" textLength="190.75" lengthAdjust="spacingAndGlyphs" fill="#d0d0d2" stroke="#fff" stroke-width="0.55">Market Intelligence</text></g>
<line x1="237.6" x2="763.4" y1="404.50" y2="404.50" stroke="#e6e6e6" stroke-width="0.8" stroke-dasharray="1.5 1.5"/>
<text x="236.3" y="407.20" font-family="'Liberation Sans', sans-serif" font-size="7.8" fill="#777" text-anchor="end" textLength="19.99" lengthAdjust="spacingAndGlyphs">50 tys.</text>
<text x="236.3" y="443.00" font-family="'Liberation Sans', sans-serif" font-size="7.8" fill="#777" text-anchor="end" textLength="16.22" lengthAdjust="spacingAndGlyphs">0 tys.</text>
<line x1="237.6" x2="763.4" y1="476.10" y2="476.10" stroke="#e6e6e6" stroke-width="0.8" stroke-dasharray="1.5 1.5"/>
<text x="236.3" y="478.80" font-family="'Liberation Sans', sans-serif" font-size="7.8" fill="#777" text-anchor="end" textLength="22.25" lengthAdjust="spacingAndGlyphs">-50 tys.</text>
<rect x="242.35" y="402.25" width="2.5" height="37.60" fill="#0e0f6f"/><rect x="242.35" y="439.85" width="2.5" height="21.66" fill="#1f8ef5"/>
<rect x="246.17" y="397.54" width="2.5" height="42.31" fill="#0e0f6f"/><rect x="246.17" y="439.85" width="2.5" height="24.27" fill="#1f8ef5"/>
<rect x="249.99" y="393.95" width="2.5" height="45.90" fill="#0e0f6f"/><rect x="249.99" y="439.85" width="2.5" height="25.33" fill="#1f8ef5"/>
<rect x="253.81" y="395.31" width="2.5" height="44.54" fill="#0e0f6f"/><rect x="253.81" y="439.85" width="2.5" height="27.39" fill="#1f8ef5"/>
<rect x="257.63" y="395.48" width="2.5" height="44.37" fill="#0e0f6f"/><rect x="257.63" y="439.85" width="2.5" height="27.66" fill="#1f8ef5"/>
<rect x="261.45" y="400.96" width="2.5" height="38.89" fill="#0e0f6f"/><rect x="261.45" y="439.85" width="2.5" height="25.74" fill="#1f8ef5"/>
<rect x="265.27" y="398.90" width="2.5" height="40.95" fill="#0e0f6f"/><rect x="265.27" y="439.85" width="2.5" height="28.25" fill="#1f8ef5"/>
<rect x="269.10" y="393.84" width="2.5" height="46.01" fill="#0e0f6f"/><rect x="269.10" y="439.85" width="2.5" height="28.34" fill="#1f8ef5"/>
<rect x="272.92" y="391.95" width="2.5" height="47.90" fill="#0e0f6f"/><rect x="272.92" y="439.85" width="2.5" height="30.08" fill="#1f8ef5"/>
<rect x="276.74" y="388.26" width="2.5" height="51.59" fill="#0e0f6f"/><rect x="276.74" y="439.85" width="2.5" height="31.63" fill="#1f8ef5"/>
<rect x="280.56" y="391.39" width="2.5" height="48.46" fill="#0e0f6f"/><rect x="280.56" y="439.85" width="2.5" height="30.52" fill="#1f8ef5"/>
<rect x="284.38" y="391.88" width="2.5" height="47.97" fill="#0e0f6f"/><rect x="284.38" y="439.85" width="2.5" height="30.92" fill="#1f8ef5"/>
<rect x="288.20" y="388.57" width="2.5" height="51.28" fill="#0e0f6f"/><rect x="288.20" y="439.85" width="2.5" height="31.64" fill="#1f8ef5"/>
<rect x="292.02" y="390.68" width="2.5" height="49.17" fill="#0e0f6f"/><rect x="292.02" y="439.85" width="2.5" height="30.51" fill="#1f8ef5"/>
<rect x="295.84" y="392.86" width="2.5" height="46.99" fill="#0e0f6f"/><rect x="295.84" y="439.85" width="2.5" height="27.29" fill="#1f8ef5"/>
<rect x="299.66" y="394.33" width="2.5" height="45.52" fill="#0e0f6f"/><rect x="299.66" y="439.85" width="2.5" height="26.32" fill="#1f8ef5"/>
<rect x="303.48" y="396.28" width="2.5" height="43.57" fill="#0e0f6f"/><rect x="303.48" y="439.85" width="2.5" height="24.78" fill="#1f8ef5"/>
<rect x="307.30" y="396.98" width="2.5" height="42.87" fill="#0e0f6f"/><rect x="307.30" y="439.85" width="2.5" height="24.78" fill="#1f8ef5"/>
<rect x="311.12" y="396.53" width="2.5" height="43.32" fill="#0e0f6f"/><rect x="311.12" y="439.85" width="2.5" height="24.71" fill="#1f8ef5"/>
<rect x="314.94" y="396.36" width="2.5" height="43.49" fill="#0e0f6f"/><rect x="314.94" y="439.85" width="2.5" height="24.26" fill="#1f8ef5"/>
<rect x="318.76" y="395.31" width="2.5" height="44.54" fill="#0e0f6f"/><rect x="318.76" y="439.85" width="2.5" height="24.08" fill="#1f8ef5"/>
<rect x="322.59" y="395.23" width="2.5" height="44.62" fill="#0e0f6f"/><rect x="322.59" y="439.85" width="2.5" height="23.05" fill="#1f8ef5"/>
<rect x="326.41" y="394.94" width="2.5" height="44.91" fill="#0e0f6f"/><rect x="326.41" y="439.85" width="2.5" height="23.05" fill="#1f8ef5"/>
<rect x="330.23" y="395.25" width="2.5" height="44.60" fill="#0e0f6f"/><rect x="330.23" y="439.85" width="2.5" height="23.20" fill="#1f8ef5"/>
<rect x="334.05" y="393.23" width="2.5" height="46.62" fill="#0e0f6f"/><rect x="334.05" y="439.85" width="2.5" height="23.76" fill="#1f8ef5"/>
<rect x="337.87" y="392.88" width="2.5" height="46.97" fill="#0e0f6f"/><rect x="337.87" y="439.85" width="2.5" height="23.05" fill="#1f8ef5"/>
<rect x="341.69" y="391.19" width="2.5" height="48.66" fill="#0e0f6f"/><rect x="341.69" y="439.85" width="2.5" height="23.21" fill="#1f8ef5"/>
<rect x="345.51" y="390.70" width="2.5" height="49.15" fill="#0e0f6f"/><rect x="345.51" y="439.85" width="2.5" height="23.91" fill="#1f8ef5"/>
<rect x="349.33" y="391.16" width="2.5" height="48.69" fill="#0e0f6f"/><rect x="349.33" y="439.85" width="2.5" height="23.84" fill="#1f8ef5"/>
<rect x="353.15" y="391.85" width="2.5" height="48.00" fill="#0e0f6f"/><rect x="353.15" y="439.85" width="2.5" height="23.64" fill="#1f8ef5"/>
<rect x="356.97" y="393.00" width="2.5" height="46.85" fill="#0e0f6f"/><rect x="356.97" y="439.85" width="2.5" height="23.84" fill="#1f8ef5"/>
<rect x="360.79" y="397.25" width="2.5" height="42.60" fill="#0e0f6f"/><rect x="360.79" y="439.85" width="2.5" height="23.65" fill="#1f8ef5"/>
<rect x="364.61" y="397.91" width="2.5" height="41.94" fill="#0e0f6f"/><rect x="364.61" y="439.85" width="2.5" height="23.83" fill="#1f8ef5"/>
<rect x="368.43" y="397.70" width="2.5" height="42.15" fill="#0e0f6f"/><rect x="368.43" y="439.85" width="2.5" height="23.57" fill="#1f8ef5"/>
<rect x="372.26" y="397.13" width="2.5" height="42.72" fill="#0e0f6f"/><rect x="372.26" y="439.85" width="2.5" height="23.57" fill="#1f8ef5"/>
<rect x="376.08" y="396.76" width="2.5" height="43.09" fill="#0e0f6f"/><rect x="376.08" y="439.85" width="2.5" height="22.09" fill="#1f8ef5"/>
<rect x="379.90" y="395.52" width="2.5" height="44.33" fill="#0e0f6f"/><rect x="379.90" y="439.85" width="2.5" height="17.25" fill="#1f8ef5"/>
<rect x="383.72" y="397.90" width="2.5" height="41.95" fill="#0e0f6f"/><rect x="383.72" y="439.85" width="2.5" height="15.26" fill="#1f8ef5"/>
<rect x="387.54" y="400.51" width="2.5" height="39.34" fill="#0e0f6f"/><rect x="387.54" y="439.85" width="2.5" height="14.04" fill="#1f8ef5"/>
<rect x="391.36" y="401.88" width="2.5" height="37.97" fill="#0e0f6f"/><rect x="391.36" y="439.85" width="2.5" height="13.27" fill="#1f8ef5"/>
<rect x="395.18" y="402.96" width="2.5" height="36.89" fill="#0e0f6f"/><rect x="395.18" y="439.85" width="2.5" height="13.26" fill="#1f8ef5"/>
<rect x="399.00" y="401.86" width="2.5" height="37.99" fill="#0e0f6f"/><rect x="399.00" y="439.85" width="2.5" height="12.81" fill="#1f8ef5"/>
<rect x="402.82" y="400.38" width="2.5" height="39.47" fill="#0e0f6f"/><rect x="402.82" y="439.85" width="2.5" height="13.01" fill="#1f8ef5"/>
<rect x="406.64" y="401.30" width="2.5" height="38.55" fill="#0e0f6f"/><rect x="406.64" y="439.85" width="2.5" height="12.37" fill="#1f8ef5"/>
<rect x="410.46" y="402.98" width="2.5" height="36.87" fill="#0e0f6f"/><rect x="410.46" y="439.85" width="2.5" height="11.78" fill="#1f8ef5"/>
<rect x="414.28" y="404.90" width="2.5" height="34.95" fill="#0e0f6f"/><rect x="414.28" y="439.85" width="2.5" height="11.78" fill="#1f8ef5"/>
<rect x="418.10" y="405.83" width="2.5" height="34.02" fill="#0e0f6f"/><rect x="418.10" y="439.85" width="2.5" height="11.78" fill="#1f8ef5"/>
<rect x="421.92" y="406.72" width="2.5" height="33.13" fill="#0e0f6f"/><rect x="421.92" y="439.85" width="2.5" height="11.78" fill="#1f8ef5"/>
<rect x="425.75" y="408.27" width="2.5" height="31.58" fill="#0e0f6f"/><rect x="425.75" y="439.85" width="2.5" height="11.78" fill="#1f8ef5"/>
<rect x="429.57" y="408.96" width="2.5" height="30.89" fill="#0e0f6f"/><rect x="429.57" y="439.85" width="2.5" height="11.47" fill="#1f8ef5"/>
<rect x="433.39" y="409.31" width="2.5" height="30.54" fill="#0e0f6f"/><rect x="433.39" y="439.85" width="2.5" height="10.92" fill="#1f8ef5"/>
<rect x="437.21" y="409.39" width="2.5" height="30.46" fill="#0e0f6f"/><rect x="437.21" y="439.85" width="2.5" height="11.24" fill="#1f8ef5"/>
<rect x="441.03" y="409.04" width="2.5" height="30.81" fill="#0e0f6f"/><rect x="441.03" y="439.85" width="2.5" height="11.92" fill="#1f8ef5"/>
<rect x="444.85" y="408.42" width="2.5" height="31.43" fill="#0e0f6f"/><rect x="444.85" y="439.85" width="2.5" height="12.33" fill="#1f8ef5"/>
<rect x="448.67" y="407.51" width="2.5" height="32.34" fill="#0e0f6f"/><rect x="448.67" y="439.85" width="2.5" height="12.86" fill="#1f8ef5"/>
<rect x="452.49" y="407.38" width="2.5" height="32.47" fill="#0e0f6f"/><rect x="452.49" y="439.85" width="2.5" height="12.61" fill="#1f8ef5"/>
<rect x="456.31" y="409.09" width="2.5" height="30.76" fill="#0e0f6f"/><rect x="456.31" y="439.85" width="2.5" height="11.06" fill="#1f8ef5"/>
<rect x="460.13" y="412.15" width="2.5" height="27.70" fill="#0e0f6f"/><rect x="460.13" y="439.85" width="2.5" height="9.90" fill="#1f8ef5"/>
<rect x="463.95" y="414.30" width="2.5" height="25.55" fill="#0e0f6f"/><rect x="463.95" y="439.85" width="2.5" height="9.48" fill="#1f8ef5"/>
<rect x="467.77" y="415.05" width="2.5" height="24.80" fill="#0e0f6f"/><rect x="467.77" y="439.85" width="2.5" height="8.81" fill="#1f8ef5"/>
<rect x="471.59" y="415.24" width="2.5" height="24.61" fill="#0e0f6f"/><rect x="471.59" y="439.85" width="2.5" height="8.16" fill="#1f8ef5"/>
<rect x="475.42" y="415.63" width="2.5" height="24.22" fill="#0e0f6f"/><rect x="475.42" y="439.85" width="2.5" height="7.97" fill="#1f8ef5"/>
<rect x="479.24" y="416.67" width="2.5" height="23.18" fill="#0e0f6f"/><rect x="479.24" y="439.85" width="2.5" height="8.13" fill="#1f8ef5"/>
<rect x="483.06" y="416.92" width="2.5" height="22.93" fill="#0e0f6f"/><rect x="483.06" y="439.85" width="2.5" height="8.16" fill="#1f8ef5"/>
<rect x="486.88" y="416.70" width="2.5" height="23.15" fill="#0e0f6f"/><rect x="486.88" y="439.85" width="2.5" height="7.97" fill="#1f8ef5"/>
<rect x="490.70" y="418.23" width="2.5" height="21.62" fill="#0e0f6f"/><rect x="490.70" y="439.85" width="2.5" height="7.47" fill="#1f8ef5"/>
<rect x="494.52" y="419.32" width="2.5" height="20.53" fill="#0e0f6f"/><rect x="494.52" y="439.85" width="2.5" height="6.76" fill="#1f8ef5"/>
<rect x="498.34" y="418.71" width="2.5" height="21.14" fill="#0e0f6f"/><rect x="498.34" y="439.85" width="2.5" height="6.59" fill="#1f8ef5"/>
<rect x="502.16" y="418.97" width="2.5" height="20.88" fill="#0e0f6f"/><rect x="502.16" y="439.85" width="2.5" height="6.59" fill="#1f8ef5"/>
<rect x="505.98" y="419.84" width="2.5" height="20.01" fill="#0e0f6f"/><rect x="505.98" y="439.85" width="2.5" height="6.59" fill="#1f8ef5"/>
<rect x="509.80" y="420.09" width="2.5" height="19.76" fill="#0e0f6f"/><rect x="509.80" y="439.85" width="2.5" height="7.48" fill="#1f8ef5"/>
<rect x="513.62" y="420.28" width="2.5" height="19.57" fill="#0e0f6f"/><rect x="513.62" y="439.85" width="2.5" height="8.50" fill="#1f8ef5"/>
<rect x="517.44" y="420.63" width="2.5" height="19.22" fill="#0e0f6f"/><rect x="517.44" y="439.85" width="2.5" height="8.66" fill="#1f8ef5"/>
<rect x="521.26" y="418.73" width="2.5" height="21.12" fill="#0e0f6f"/><rect x="521.26" y="439.85" width="2.5" height="9.88" fill="#1f8ef5"/>
<rect x="525.08" y="416.22" width="2.5" height="23.63" fill="#0e0f6f"/><rect x="525.08" y="439.85" width="2.5" height="11.39" fill="#1f8ef5"/>
<rect x="528.91" y="416.07" width="2.5" height="23.78" fill="#0e0f6f"/><rect x="528.91" y="439.85" width="2.5" height="11.49" fill="#1f8ef5"/>
<rect x="532.73" y="416.75" width="2.5" height="23.10" fill="#0e0f6f"/><rect x="532.73" y="439.85" width="2.5" height="10.78" fill="#1f8ef5"/>
<rect x="536.55" y="417.96" width="2.5" height="21.89" fill="#0e0f6f"/><rect x="536.55" y="439.85" width="2.5" height="9.71" fill="#1f8ef5"/>
<rect x="540.37" y="418.21" width="2.5" height="21.64" fill="#0e0f6f"/><rect x="540.37" y="439.85" width="2.5" height="9.48" fill="#1f8ef5"/>
<rect x="544.19" y="417.64" width="2.5" height="22.21" fill="#0e0f6f"/><rect x="544.19" y="439.85" width="2.5" height="9.91" fill="#1f8ef5"/>
<rect x="548.01" y="417.91" width="2.5" height="21.94" fill="#0e0f6f"/><rect x="548.01" y="439.85" width="2.5" height="9.85" fill="#1f8ef5"/>
<rect x="551.83" y="418.19" width="2.5" height="21.66" fill="#0e0f6f"/><rect x="551.83" y="439.85" width="2.5" height="10.12" fill="#1f8ef5"/>
<rect x="555.65" y="418.82" width="2.5" height="21.03" fill="#0e0f6f"/><rect x="555.65" y="439.85" width="2.5" height="10.19" fill="#1f8ef5"/>
<rect x="559.47" y="419.76" width="2.5" height="20.09" fill="#0e0f6f"/><rect x="559.47" y="439.85" width="2.5" height="9.84" fill="#1f8ef5"/>
<rect x="563.29" y="420.09" width="2.5" height="19.76" fill="#0e0f6f"/><rect x="563.29" y="439.85" width="2.5" height="9.70" fill="#1f8ef5"/>
<rect x="567.11" y="419.44" width="2.5" height="20.41" fill="#0e0f6f"/><rect x="567.11" y="439.85" width="2.5" height="9.92" fill="#1f8ef5"/>
<rect x="570.93" y="418.50" width="2.5" height="21.35" fill="#0e0f6f"/><rect x="570.93" y="439.85" width="2.5" height="10.27" fill="#1f8ef5"/>
<rect x="574.75" y="418.75" width="2.5" height="21.10" fill="#0e0f6f"/><rect x="574.75" y="439.85" width="2.5" height="9.95" fill="#1f8ef5"/>
<rect x="578.58" y="419.73" width="2.5" height="20.12" fill="#0e0f6f"/><rect x="578.58" y="439.85" width="2.5" height="9.37" fill="#1f8ef5"/>
<rect x="582.40" y="418.84" width="2.5" height="21.01" fill="#0e0f6f"/><rect x="582.40" y="439.85" width="2.5" height="8.61" fill="#1f8ef5"/>
<rect x="586.22" y="418.19" width="2.5" height="21.66" fill="#0e0f6f"/><rect x="586.22" y="439.85" width="2.5" height="8.09" fill="#1f8ef5"/>
<rect x="590.04" y="418.77" width="2.5" height="21.08" fill="#0e0f6f"/><rect x="590.04" y="439.85" width="2.5" height="7.62" fill="#1f8ef5"/>
<rect x="593.86" y="419.17" width="2.5" height="20.68" fill="#0e0f6f"/><rect x="593.86" y="439.85" width="2.5" height="7.10" fill="#1f8ef5"/>
<rect x="597.68" y="419.23" width="2.5" height="20.62" fill="#0e0f6f"/><rect x="597.68" y="439.85" width="2.5" height="6.69" fill="#1f8ef5"/>
<rect x="601.50" y="419.47" width="2.5" height="20.38" fill="#0e0f6f"/><rect x="601.50" y="439.85" width="2.5" height="6.34" fill="#1f8ef5"/>
<rect x="605.32" y="419.94" width="2.5" height="19.91" fill="#0e0f6f"/><rect x="605.32" y="439.85" width="2.5" height="6.48" fill="#1f8ef5"/>
<rect x="609.14" y="420.09" width="2.5" height="19.76" fill="#0e0f6f"/><rect x="609.14" y="439.85" width="2.5" height="6.34" fill="#1f8ef5"/>
<rect x="612.96" y="420.59" width="2.5" height="19.26" fill="#0e0f6f"/><rect x="612.96" y="439.85" width="2.5" height="5.86" fill="#1f8ef5"/>
<rect x="616.78" y="421.54" width="2.5" height="18.31" fill="#0e0f6f"/><rect x="616.78" y="439.85" width="2.5" height="6.98" fill="#1f8ef5"/>
<rect x="620.60" y="422.34" width="2.5" height="17.51" fill="#0e0f6f"/><rect x="620.60" y="439.85" width="2.5" height="6.56" fill="#1f8ef5"/>
<rect x="624.42" y="423.29" width="2.5" height="16.56" fill="#0e0f6f"/><rect x="624.42" y="439.85" width="2.5" height="5.85" fill="#1f8ef5"/>
<rect x="628.24" y="424.08" width="2.5" height="15.77" fill="#0e0f6f"/><rect x="628.24" y="439.85" width="2.5" height="5.72" fill="#1f8ef5"/>
<rect x="632.07" y="424.25" width="2.5" height="15.60" fill="#0e0f6f"/><rect x="632.07" y="439.85" width="2.5" height="5.33" fill="#1f8ef5"/>
<rect x="635.89" y="425.31" width="2.5" height="14.54" fill="#0e0f6f"/><rect x="635.89" y="439.85" width="2.5" height="4.93" fill="#1f8ef5"/>
<rect x="639.71" y="426.04" width="2.5" height="13.81" fill="#0e0f6f"/><rect x="639.71" y="439.85" width="2.5" height="4.85" fill="#1f8ef5"/>
<rect x="643.53" y="425.76" width="2.5" height="14.09" fill="#0e0f6f"/><rect x="643.53" y="439.85" width="2.5" height="4.85" fill="#1f8ef5"/>
<rect x="647.35" y="425.23" width="2.5" height="14.62" fill="#0e0f6f"/><rect x="647.35" y="439.85" width="2.5" height="5.12" fill="#1f8ef5"/>
<rect x="651.17" y="424.43" width="2.5" height="15.42" fill="#0e0f6f"/><rect x="651.17" y="439.85" width="2.5" height="5.34" fill="#1f8ef5"/>
<rect x="654.99" y="424.25" width="2.5" height="15.60" fill="#0e0f6f"/><rect x="654.99" y="439.85" width="2.5" height="5.37" fill="#1f8ef5"/>
<rect x="658.81" y="424.67" width="2.5" height="15.18" fill="#0e0f6f"/><rect x="658.81" y="439.85" width="2.5" height="5.37" fill="#1f8ef5"/>
<rect x="662.63" y="425.76" width="2.5" height="14.09" fill="#0e0f6f"/><rect x="662.63" y="439.85" width="2.5" height="5.65" fill="#1f8ef5"/>
<rect x="666.45" y="425.42" width="2.5" height="14.43" fill="#0e0f6f"/><rect x="666.45" y="439.85" width="2.5" height="5.72" fill="#1f8ef5"/>
<rect x="670.27" y="426.59" width="2.5" height="13.26" fill="#0e0f6f"/><rect x="670.27" y="439.85" width="2.5" height="6.15" fill="#1f8ef5"/>
<rect x="674.09" y="427.72" width="2.5" height="12.13" fill="#0e0f6f"/><rect x="674.09" y="439.85" width="2.5" height="7.69" fill="#1f8ef5"/>
<rect x="677.91" y="428.19" width="2.5" height="11.66" fill="#0e0f6f"/><rect x="677.91" y="439.85" width="2.5" height="7.97" fill="#1f8ef5"/>
<rect x="681.74" y="428.68" width="2.5" height="11.17" fill="#0e0f6f"/><rect x="681.74" y="439.85" width="2.5" height="8.27" fill="#1f8ef5"/>
<rect x="685.56" y="429.35" width="2.5" height="10.50" fill="#0e0f6f"/><rect x="685.56" y="439.85" width="2.5" height="8.32" fill="#1f8ef5"/>
<rect x="689.38" y="428.70" width="2.5" height="11.15" fill="#0e0f6f"/><rect x="689.38" y="439.85" width="2.5" height="9.07" fill="#1f8ef5"/>
<rect x="693.20" y="428.59" width="2.5" height="11.26" fill="#0e0f6f"/><rect x="693.20" y="439.85" width="2.5" height="7.67" fill="#1f8ef5"/>
<rect x="697.02" y="429.04" width="2.5" height="10.81" fill="#0e0f6f"/><rect x="697.02" y="439.85" width="2.5" height="6.69" fill="#1f8ef5"/>
<rect x="700.84" y="428.34" width="2.5" height="11.51" fill="#0e0f6f"/><rect x="700.84" y="439.85" width="2.5" height="6.59" fill="#1f8ef5"/>
<rect x="704.66" y="427.93" width="2.5" height="11.92" fill="#0e0f6f"/><rect x="704.66" y="439.85" width="2.5" height="6.59" fill="#1f8ef5"/>
<rect x="708.48" y="427.42" width="2.5" height="12.43" fill="#0e0f6f"/><rect x="708.48" y="439.85" width="2.5" height="6.59" fill="#1f8ef5"/>
<rect x="712.30" y="427.37" width="2.5" height="12.48" fill="#0e0f6f"/><rect x="712.30" y="439.85" width="2.5" height="6.59" fill="#1f8ef5"/>
<rect x="716.12" y="427.05" width="2.5" height="12.80" fill="#0e0f6f"/><rect x="716.12" y="439.85" width="2.5" height="6.90" fill="#1f8ef5"/>
<rect x="719.94" y="427.03" width="2.5" height="12.82" fill="#0e0f6f"/><rect x="719.94" y="439.85" width="2.5" height="6.93" fill="#1f8ef5"/>
<rect x="723.76" y="426.54" width="2.5" height="13.31" fill="#0e0f6f"/><rect x="723.76" y="439.85" width="2.5" height="6.61" fill="#1f8ef5"/>
<rect x="727.58" y="426.18" width="2.5" height="13.67" fill="#0e0f6f"/><rect x="727.58" y="439.85" width="2.5" height="6.26" fill="#1f8ef5"/>
<rect x="731.40" y="426.82" width="2.5" height="13.03" fill="#0e0f6f"/><rect x="731.40" y="439.85" width="2.5" height="6.24" fill="#1f8ef5"/>
<rect x="735.23" y="426.52" width="2.5" height="13.33" fill="#0e0f6f"/><rect x="735.23" y="439.85" width="2.5" height="5.74" fill="#1f8ef5"/>
<rect x="739.05" y="426.01" width="2.5" height="13.84" fill="#0e0f6f"/><rect x="739.05" y="439.85" width="2.5" height="5.72" fill="#1f8ef5"/>
<rect x="742.87" y="425.99" width="2.5" height="13.86" fill="#0e0f6f"/><rect x="742.87" y="439.85" width="2.5" height="6.22" fill="#1f8ef5"/>
<rect x="746.69" y="425.99" width="2.5" height="13.86" fill="#0e0f6f"/><rect x="746.69" y="439.85" width="2.5" height="6.24" fill="#1f8ef5"/>
<rect x="750.51" y="425.65" width="2.5" height="14.20" fill="#0e0f6f"/><rect x="750.51" y="439.85" width="2.5" height="4.02" fill="#1f8ef5"/>
<rect x="754.33" y="423.40" width="2.5" height="16.45" fill="#0e0f6f"/><rect x="754.33" y="439.85" width="2.5" height="3.64" fill="#1f8ef5"/>
<rect x="758.15" y="424.43" width="2.5" height="15.42" fill="#0e0f6f"/><rect x="758.15" y="439.85" width="2.5" height="3.64" fill="#1f8ef5"/>
<path d="M243.60,423.91 C244.24,423.56 246.15,422.58 247.42,421.81 C248.69,421.04 249.97,419.13 251.24,419.28 C252.52,419.43 253.79,422.06 255.06,422.70 C256.34,423.35 257.61,422.48 258.88,423.15 C260.16,423.82 261.43,426.04 262.70,426.71 C263.98,427.37 265.25,427.90 266.52,427.14 C267.80,426.39 269.07,423.03 270.35,422.17 C271.62,421.32 272.89,422.41 274.17,422.03 C275.44,421.65 276.71,419.91 277.99,419.89 C279.26,419.87 280.53,421.43 281.81,421.92 C283.08,422.40 284.35,423.09 285.63,422.80 C286.90,422.51 288.18,420.47 289.45,420.20 C290.72,419.93 292.00,421.20 293.27,421.19 C294.54,421.18 295.82,420.24 297.09,420.15 C298.36,420.06 299.64,420.50 300.91,420.65 C302.18,420.81 303.46,420.88 304.73,421.06 C306.01,421.25 307.28,421.73 308.55,421.76 C309.83,421.79 311.10,421.43 312.37,421.24 C313.65,421.05 314.92,420.92 316.19,420.62 C317.47,420.31 318.74,419.78 320.01,419.40 C321.29,419.01 322.56,418.52 323.84,418.28 C325.11,418.05 326.38,417.96 327.66,417.98 C328.93,418.01 330.20,418.61 331.48,418.44 C332.75,418.28 334.02,417.41 335.30,416.99 C336.57,416.58 337.84,416.36 339.12,415.93 C340.39,415.50 341.67,414.63 342.94,414.41 C344.21,414.19 345.49,414.52 346.76,414.62 C348.03,414.72 349.31,414.86 350.58,415.00 C351.85,415.15 353.13,415.18 354.40,415.49 C355.68,415.80 356.95,415.94 358.22,416.84 C359.50,417.74 360.77,420.08 362.04,420.89 C363.32,421.71 364.59,421.68 365.86,421.75 C367.14,421.81 368.41,421.44 369.68,421.27 C370.96,421.10 372.23,421.11 373.51,420.70 C374.78,420.30 376.05,420.17 377.33,418.85 C378.60,417.53 379.87,413.72 381.15,412.77 C382.42,411.82 383.69,412.87 384.97,413.17 C386.24,413.46 387.51,414.22 388.79,414.55 C390.06,414.88 391.34,414.87 392.61,415.15 C393.88,415.43 395.16,416.30 396.43,416.22 C397.70,416.14 398.98,415.14 400.25,414.66 C401.52,414.19 402.80,413.56 404.07,413.39 C405.34,413.23 406.62,413.45 407.89,413.68 C409.17,413.90 410.44,414.26 411.71,414.76 C412.99,415.27 414.26,416.21 415.53,416.69 C416.81,417.16 418.08,417.31 419.35,417.61 C420.63,417.92 421.90,418.10 423.17,418.51 C424.45,418.91 425.72,419.74 427.00,420.06 C428.27,420.38 429.54,420.40 430.82,420.43 C432.09,420.45 433.36,420.19 434.64,420.22 C435.91,420.26 437.18,420.51 438.46,420.64 C439.73,420.76 441.00,420.94 442.28,420.96 C443.55,420.98 444.83,420.86 446.10,420.76 C447.37,420.66 448.65,420.50 449.92,420.37 C451.19,420.24 452.47,420.02 453.74,419.99 C455.01,419.95 456.29,419.80 457.56,420.15 C458.84,420.50 460.11,421.45 461.38,422.06 C462.66,422.66 463.93,423.48 465.20,423.78 C466.48,424.08 467.75,423.92 469.02,423.85 C470.30,423.79 471.57,423.45 472.84,423.41 C474.12,423.37 475.39,423.37 476.67,423.61 C477.94,423.84 479.21,424.55 480.49,424.80 C481.76,425.04 483.03,425.09 484.31,425.07 C485.58,425.05 486.85,424.57 488.13,424.67 C489.40,424.78 490.67,425.46 491.95,425.70 C493.22,425.93 494.50,426.15 495.77,426.08 C497.04,426.02 498.32,425.38 499.59,425.30 C500.86,425.21 502.14,425.37 503.41,425.56 C504.68,425.75 505.96,426.09 507.23,426.43 C508.50,426.76 509.78,427.19 511.05,427.58 C512.33,427.97 513.60,428.49 514.87,428.78 C516.15,429.06 517.42,429.32 518.69,429.29 C519.97,429.26 521.24,428.89 522.51,428.61 C523.79,428.33 525.06,427.78 526.33,427.61 C527.61,427.43 528.88,427.58 530.16,427.57 C531.43,427.55 532.70,427.51 533.98,427.52 C535.25,427.54 536.52,427.64 537.80,427.67 C539.07,427.70 540.34,427.71 541.62,427.69 C542.89,427.67 544.16,427.54 545.44,427.55 C546.71,427.56 547.99,427.62 549.26,427.75 C550.53,427.88 551.81,428.10 553.08,428.31 C554.35,428.52 555.63,428.79 556.90,429.01 C558.17,429.22 559.45,429.47 560.72,429.60 C562.00,429.73 563.27,429.84 564.54,429.80 C565.82,429.76 567.09,429.53 568.36,429.36 C569.64,429.19 570.91,428.89 572.18,428.77 C573.46,428.66 574.73,428.64 576.00,428.70 C577.28,428.75 578.55,429.31 579.83,429.10 C581.10,428.89 582.37,427.92 583.65,427.45 C584.92,426.98 586.19,426.45 587.47,426.28 C588.74,426.10 590.01,426.39 591.29,426.39 C592.56,426.39 593.83,426.35 595.11,426.27 C596.38,426.19 597.66,426.00 598.93,425.92 C600.20,425.85 601.48,425.73 602.75,425.81 C604.02,425.90 605.30,426.32 606.57,426.42 C607.84,426.53 609.12,426.43 610.39,426.43 C611.66,426.44 612.94,426.11 614.21,426.46 C615.49,426.81 616.76,428.11 618.03,428.52 C619.31,428.93 620.58,428.79 621.85,428.90 C623.13,429.00 624.40,428.99 625.67,429.14 C626.95,429.29 628.22,429.73 629.49,429.80 C630.77,429.87 632.04,429.50 633.32,429.58 C634.59,429.65 635.86,430.03 637.14,430.25 C638.41,430.46 639.68,430.83 640.96,430.89 C642.23,430.95 643.50,430.70 644.78,430.61 C646.05,430.52 647.32,430.50 648.60,430.36 C649.87,430.22 651.15,429.89 652.42,429.77 C653.69,429.65 654.97,429.58 656.24,429.63 C657.51,429.67 658.79,429.75 660.06,430.05 C661.33,430.34 662.61,431.23 663.88,431.42 C665.16,431.60 666.43,430.92 667.70,431.14 C668.98,431.36 670.25,432.02 671.52,432.74 C672.80,433.45 674.07,434.84 675.34,435.41 C676.62,435.98 677.89,435.90 679.16,436.16 C680.44,436.41 681.71,436.70 682.99,436.95 C684.26,437.20 685.53,437.54 686.81,437.67 C688.08,437.81 689.35,438.01 690.63,437.77 C691.90,437.53 693.17,436.60 694.45,436.26 C695.72,435.92 696.99,435.95 698.27,435.73 C699.54,435.51 700.82,435.12 702.09,434.92 C703.36,434.72 704.64,434.67 705.91,434.51 C707.18,434.36 708.46,434.10 709.73,434.01 C711.00,433.92 712.28,433.97 713.55,433.96 C714.82,433.95 716.10,433.96 717.37,433.96 C718.65,433.96 719.92,434.09 721.19,433.96 C722.47,433.82 723.74,433.40 725.01,433.15 C726.29,432.90 727.56,432.46 728.83,432.44 C730.11,432.42 731.38,433.09 732.65,433.06 C733.93,433.03 735.20,432.49 736.48,432.26 C737.75,432.04 739.02,431.73 740.30,431.72 C741.57,431.72 742.84,432.13 744.12,432.21 C745.39,432.29 746.66,432.65 747.94,432.23 C749.21,431.80 750.48,430.53 751.76,429.66 C753.03,428.80 754.31,427.31 755.58,427.05 C756.85,426.78 758.76,427.90 759.40,428.07" fill="none" stroke="#f39c12" stroke-width="2.1" stroke-linejoin="round" stroke-linecap="round"/>
<text x="341.9" y="492.9" font-family="'Liberation Sans', sans-serif" font-size="7.8" fill="#777" text-anchor="middle" textLength="24.86" lengthAdjust="spacingAndGlyphs">lip 2023</text>
<text x="442.4" y="492.9" font-family="'Liberation Sans', sans-serif" font-size="7.8" fill="#777" text-anchor="middle" textLength="26.83" lengthAdjust="spacingAndGlyphs">sty 2024</text>
<text x="542" y="492.9" font-family="'Liberation Sans', sans-serif" font-size="7.8" fill="#777" text-anchor="middle" textLength="24.86" lengthAdjust="spacingAndGlyphs">lip 2024</text>
<text x="642.5" y="492.9" font-family="'Liberation Sans', sans-serif" font-size="7.8" fill="#777" text-anchor="middle" textLength="26.83" lengthAdjust="spacingAndGlyphs">sty 2025</text>
<text x="741.4" y="492.9" font-family="'Liberation Sans', sans-serif" font-size="7.8" fill="#777" text-anchor="middle" textLength="24.86" lengthAdjust="spacingAndGlyphs">lip 2025</text>
<circle cx="216" cy="369.75" r="3.2" fill="#0e0f6f"/>
<text x="220" y="372.15" font-family="'Liberation Sans', sans-serif" font-size="7.8" fill="#888" textLength="16.14" lengthAdjust="spacingAndGlyphs">Long</text>
<circle cx="243.3" cy="369.75" r="3.2" fill="#1f8ef5"/>
<text x="247" y="372.15" font-family="'Liberation Sans', sans-serif" font-size="7.8" fill="#888" textLength="17.34" lengthAdjust="spacingAndGlyphs">Short</text>
<circle cx="271.3" cy="369.75" r="3.2" fill="#f39c12"/>
<text x="275.3" y="372.15" font-family="'Liberation Sans', sans-serif" font-size="7.8" fill="#888" textLength="11.29" lengthAdjust="spacingAndGlyphs">Net</text>
</svg>

<div class="tab" style="left:35px;top:568.75px;width:60.75px;height:23.75px;background:#efefef"><span style="top:8.6px"><i>Specs</i></span></div>
<div class="tab" style="left:100px;top:565.5px;width:61px;height:27px;background:#e3e3e3"><span style="top:9.1px"><i style="transform:scaleX(0.93)">Hedgers</i></span></div>
<div class="title" style="top:568.1px">Cocoa - Commitment of Traders Report</div>
<div class="panel" style="top:593px;height:404px"></div>
<div class="lbox" style="top:602px;height:379.5px"></div>
<div class="seltxt" style="top:617.5px">Select below the chart you<br>want to view</div>
<div class="btn light" style="left:34px;top:672.5px;width:142px;height:38.5px"><i>Cocoa ICE NY</i></div>
<div class="btn dark" style="left:34px;top:732.2px;width:142px;height:38.5px"><i>Cocoa ICE London</i></div>
<div class="btn light" style="left:34px;top:793.8px;width:142px;height:38.5px"><i>Net x Prices</i></div>
<div class="src" style="top:965px"><i>Sources: CFTC, ICE.</i></div>
<div class="slicer" style="left:208.5px;top:597.8px"><div class="sl-lab">Year</div><div class="sl-in"><span>Wszystkie</span><svg class="chev" width="9" height="6" viewBox="0 0 9 6"><path d="M0.5 0.7 L4.5 4.8 L8.5 0.7" fill="none" stroke="#333" stroke-width="1"/></svg></div></div>
<div class="slicer" style="left:320px;top:597.8px"><div class="sl-lab">Month</div><div class="sl-in"><span>Wszystkie</span><svg class="chev" width="9" height="6" viewBox="0 0 9 6"><path d="M0.5 0.7 L4.5 4.8 L8.5 0.7" fill="none" stroke="#333" stroke-width="1"/></svg></div></div>
<div class="slicer" style="left:431.5px;top:597.8px"><div class="sl-lab">Day</div><div class="sl-in"><span>Wszystkie</span><svg class="chev" width="9" height="6" viewBox="0 0 9 6"><path d="M0.5 0.7 L4.5 4.8 L8.5 0.7" fill="none" stroke="#333" stroke-width="1"/></svg></div></div>
<div class="clean" style="left:546.5px;top:605px"><i>Clean Filters</i></div>
<div class="btn light2" style="left:625.5px;top:597.5px;width:72px;height:46px;font-size:11.4px;border-radius:10px"><i>Charts</i></div>
<div class="btn dark" style="left:706px;top:597.5px;width:72px;height:46px;font-size:11.4px;border-radius:10px"><i>Table</i></div>

<div class="ctitle" style="top:651px">Comercial (ICE LD)</div>
<div class="tbox"></div>
<div class="thead">
 <div class="th" style="left:0;width:105.5px">Date</div>
 <div class="th" style="left:105.5px;width:145.75px">Long</div>
 <div class="th" style="left:251.25px;width:151.7px">Short</div>
 <div class="th" style="left:402.95px;width:154.1px">Net</div>
 <svg style="position:absolute;left:4px;top:14.8px" width="7" height="4" viewBox="0 0 7 4"><path d="M0 0 L7 0 L3.5 3.6 Z" fill="#fff"/></svg>
</div>
<div class="tbody"><div class="tr" style="top:0.00px;background:#fff"><div class="td c0"><span>05-08-2025</span></div><div class="td c1"><span>66737</span></div><div class="td c2"><span>76033</span></div><div class="td c3"><span>-9296</span></div></div><div class="tr" style="top:15.38px;background:#ececec"><div class="td c0"><span>29-07-2025</span></div><div class="td c1"><span>68099</span></div><div class="td c2"><span>75901</span></div><div class="td c3"><span>-7802</span></div></div><div class="tr" style="top:30.76px;background:#fff"><div class="td c0"><span>22-07-2025</span></div><div class="td c1"><span>74090</span></div><div class="td c2"><span>77083</span></div><div class="td c3"><span>-2993</span></div></div><div class="tr" style="top:46.14px;background:#ececec"><div class="td c0"><span>15-07-2025</span></div><div class="td c1"><span>68815</span></div><div class="td c2"><span>74672</span></div><div class="td c3"><span>-5857</span></div></div><div class="tr" style="top:61.52px;background:#fff"><div class="td c0"><span>08-07-2025</span></div><div class="td c1"><span>67318</span></div><div class="td c2"><span>72193</span></div><div class="td c3"><span>-4875</span></div></div><div class="tr" style="top:76.90px;background:#ececec"><div class="td c0"><span>01-07-2025</span></div><div class="td c1"><span>64150</span></div><div class="td c2"><span>76969</span></div><div class="td c3"><span>-12819</span></div></div><div class="tr" style="top:92.28px;background:#fff"><div class="td c0"><span>24-06-2025</span></div><div class="td c1"><span>63898</span></div><div class="td c2"><span>77775</span></div><div class="td c3"><span>-13877</span></div></div><div class="tr" style="top:107.66px;background:#ececec"><div class="td c0"><span>17-06-2025</span></div><div class="td c1"><span>54256</span></div><div class="td c2"><span>69138</span></div><div class="td c3"><span>-14882</span></div></div><div class="tr" style="top:123.04px;background:#fff"><div class="td c0"><span>10-06-2025</span></div><div class="td c1"><span>51805</span></div><div class="td c2"><span>68139</span></div><div class="td c3"><span>-16334</span></div></div><div class="tr" style="top:138.42px;background:#ececec"><div class="td c0"><span>03-06-2025</span></div><div class="td c1"><span>55494</span></div><div class="td c2"><span>69309</span></div><div class="td c3"><span>-13815</span></div></div><div class="tr" style="top:153.80px;background:#fff"><div class="td c0"><span>27-05-2025</span></div><div class="td c1"><span>50606</span></div><div class="td c2"><span>70083</span></div><div class="td c3"><span>-19477</span></div></div><div class="tr" style="top:169.18px;background:#ececec"><div class="td c0"><span>20-05-2025</span></div><div class="td c1"><span>51422</span></div><div class="td c2"><span>69767</span></div><div class="td c3"><span>-18345</span></div></div><div class="tr" style="top:184.56px;background:#fff"><div class="td c0"><span>13-05-2025</span></div><div class="td c1"><span>59301</span></div><div class="td c2"><span>74949</span></div><div class="td c3"><span>-15648</span></div></div><div class="tr" style="top:199.94px;background:#ececec"><div class="td c0"><span>06-05-2025</span></div><div class="td c1"><span>61883</span></div><div class="td c2"><span>72697</span></div><div class="td c3"><span>-10814</span></div></div><div class="tr" style="top:215.32px;background:#fff"><div class="td c0"><span>29-04-2025</span></div><div class="td c1"><span>64329</span></div><div class="td c2"><span>75881</span></div><div class="td c3"><span>-11552</span></div></div><div class="tr" style="top:230.70px;background:#ececec"><div class="td c0"><span>22-04-2025</span></div><div class="td c1"><span>63356</span></div><div class="td c2"><span>73918</span></div><div class="td c3"><span>-10562</span></div></div><div class="tr" style="top:246.08px;background:#fff"><div class="td c0"><span>15-04-2025</span></div><div class="td c1"><span>65942</span></div><div class="td c2"><span>73523</span></div><div class="td c3"><span>-7581</span></div></div><div class="tr" style="top:261.46px;background:#ececec"><div class="td c0"><span>08-04-2025</span></div><div class="td c1"><span>72422</span></div><div class="td c2"><span>79734</span></div><div class="td c3"><span>-7312</span></div></div><div class="tr" style="top:276.84px;background:#fff"><div class="td c0"><span>01-04-2025</span></div><div class="td c1"><span>73444</span></div><div class="td c2"><span>78866</span></div><div class="td c3"><span>-5422</span></div></div>
 <div class="vline" style="left:105.5px"></div><div class="vline" style="left:251.25px"></div><div class="vline" style="left:402.95px"></div>
</div>
<div class="scroll"></div>

<svg style="position:absolute;left:0;top:77px;pointer-events:none" width="800" height="443" viewBox="0 77 800 443">
<text x="-9" y="84" transform="rotate(-45 -9 84)" font-family="'Liberation Sans', sans-serif" font-size="19" textLength="310" lengthAdjust="spacingAndGlyphs" fill="rgba(255,255,255,0.035)" stroke="rgba(60,60,60,0.11)" stroke-width="0.7">Monika.Kurianowicz@StoneX.com</text>
<text x="302" y="84" transform="rotate(-45 302 84)" font-family="'Liberation Sans', sans-serif" font-size="19" textLength="310" lengthAdjust="spacingAndGlyphs" fill="rgba(255,255,255,0.035)" stroke="rgba(60,60,60,0.11)" stroke-width="0.7">Monika.Kurianowicz@StoneX.com</text>
<text x="-9" y="225" transform="rotate(-45 -9 225)" font-family="'Liberation Sans', sans-serif" font-size="19" textLength="310" lengthAdjust="spacingAndGlyphs" fill="rgba(255,255,255,0.035)" stroke="rgba(60,60,60,0.11)" stroke-width="0.7">Monika.Kurianowicz@StoneX.com</text>
<text x="302" y="225" transform="rotate(-45 302 225)" font-family="'Liberation Sans', sans-serif" font-size="19" textLength="310" lengthAdjust="spacingAndGlyphs" fill="rgba(255,255,255,0.035)" stroke="rgba(60,60,60,0.11)" stroke-width="0.7">Monika.Kurianowicz@StoneX.com</text>
<text x="-9" y="366" transform="rotate(-45 -9 366)" font-family="'Liberation Sans', sans-serif" font-size="19" textLength="310" lengthAdjust="spacingAndGlyphs" fill="rgba(255,255,255,0.035)" stroke="rgba(60,60,60,0.11)" stroke-width="0.7">Monika.Kurianowicz@StoneX.com</text>
<text x="302" y="366" transform="rotate(-45 302 366)" font-family="'Liberation Sans', sans-serif" font-size="19" textLength="310" lengthAdjust="spacingAndGlyphs" fill="rgba(255,255,255,0.035)" stroke="rgba(60,60,60,0.11)" stroke-width="0.7">Monika.Kurianowicz@StoneX.com</text>
<text x="-9" y="507" transform="rotate(-45 -9 507)" font-family="'Liberation Sans', sans-serif" font-size="19" textLength="310" lengthAdjust="spacingAndGlyphs" fill="rgba(255,255,255,0.035)" stroke="rgba(60,60,60,0.11)" stroke-width="0.7">Monika.Kurianowicz@StoneX.com</text>
<text x="302" y="507" transform="rotate(-45 302 507)" font-family="'Liberation Sans', sans-serif" font-size="19" textLength="310" lengthAdjust="spacingAndGlyphs" fill="rgba(255,255,255,0.035)" stroke="rgba(60,60,60,0.11)" stroke-width="0.7">Monika.Kurianowicz@StoneX.com</text>
<text x="-9" y="649" transform="rotate(-45 -9 649)" font-family="'Liberation Sans', sans-serif" font-size="19" textLength="310" lengthAdjust="spacingAndGlyphs" fill="rgba(255,255,255,0.035)" stroke="rgba(60,60,60,0.11)" stroke-width="0.7">Monika.Kurianowicz@StoneX.com</text>
<text x="302" y="649" transform="rotate(-45 302 649)" font-family="'Liberation Sans', sans-serif" font-size="19" textLength="310" lengthAdjust="spacingAndGlyphs" fill="rgba(255,255,255,0.035)" stroke="rgba(60,60,60,0.11)" stroke-width="0.7">Monika.Kurianowicz@StoneX.com</text>
</svg>
<svg style="position:absolute;left:0;top:553px;pointer-events:none" width="800" height="447" viewBox="0 553 800 447">
<text x="-10" y="564" transform="rotate(-45 -10 564)" font-family="'Liberation Sans', sans-serif" font-size="19" textLength="310" lengthAdjust="spacingAndGlyphs" fill="rgba(255,255,255,0.035)" stroke="rgba(60,60,60,0.11)" stroke-width="0.7">Monika.Kurianowicz@StoneX.com</text>
<text x="303" y="564" transform="rotate(-45 303 564)" font-family="'Liberation Sans', sans-serif" font-size="19" textLength="310" lengthAdjust="spacingAndGlyphs" fill="rgba(255,255,255,0.035)" stroke="rgba(60,60,60,0.11)" stroke-width="0.7">Monika.Kurianowicz@StoneX.com</text>
<text x="-10" y="705" transform="rotate(-45 -10 705)" font-family="'Liberation Sans', sans-serif" font-size="19" textLength="310" lengthAdjust="spacingAndGlyphs" fill="rgba(255,255,255,0.035)" stroke="rgba(60,60,60,0.11)" stroke-width="0.7">Monika.Kurianowicz@StoneX.com</text>
<text x="303" y="705" transform="rotate(-45 303 705)" font-family="'Liberation Sans', sans-serif" font-size="19" textLength="310" lengthAdjust="spacingAndGlyphs" fill="rgba(255,255,255,0.035)" stroke="rgba(60,60,60,0.11)" stroke-width="0.7">Monika.Kurianowicz@StoneX.com</text>
<text x="-10" y="847" transform="rotate(-45 -10 847)" font-family="'Liberation Sans', sans-serif" font-size="19" textLength="310" lengthAdjust="spacingAndGlyphs" fill="rgba(255,255,255,0.035)" stroke="rgba(60,60,60,0.11)" stroke-width="0.7">Monika.Kurianowicz@StoneX.com</text>
<text x="303" y="847" transform="rotate(-45 303 847)" font-family="'Liberation Sans', sans-serif" font-size="19" textLength="310" lengthAdjust="spacingAndGlyphs" fill="rgba(255,255,255,0.035)" stroke="rgba(60,60,60,0.11)" stroke-width="0.7">Monika.Kurianowicz@StoneX.com</text>
<text x="-10" y="990" transform="rotate(-45 -10 990)" font-family="'Liberation Sans', sans-serif" font-size="19" textLength="310" lengthAdjust="spacingAndGlyphs" fill="rgba(255,255,255,0.035)" stroke="rgba(60,60,60,0.11)" stroke-width="0.7">Monika.Kurianowicz@StoneX.com</text>
<text x="303" y="990" transform="rotate(-45 303 990)" font-family="'Liberation Sans', sans-serif" font-size="19" textLength="310" lengthAdjust="spacingAndGlyphs" fill="rgba(255,255,255,0.035)" stroke="rgba(60,60,60,0.11)" stroke-width="0.7">Monika.Kurianowicz@StoneX.com</text>
</svg>
</body></html>
